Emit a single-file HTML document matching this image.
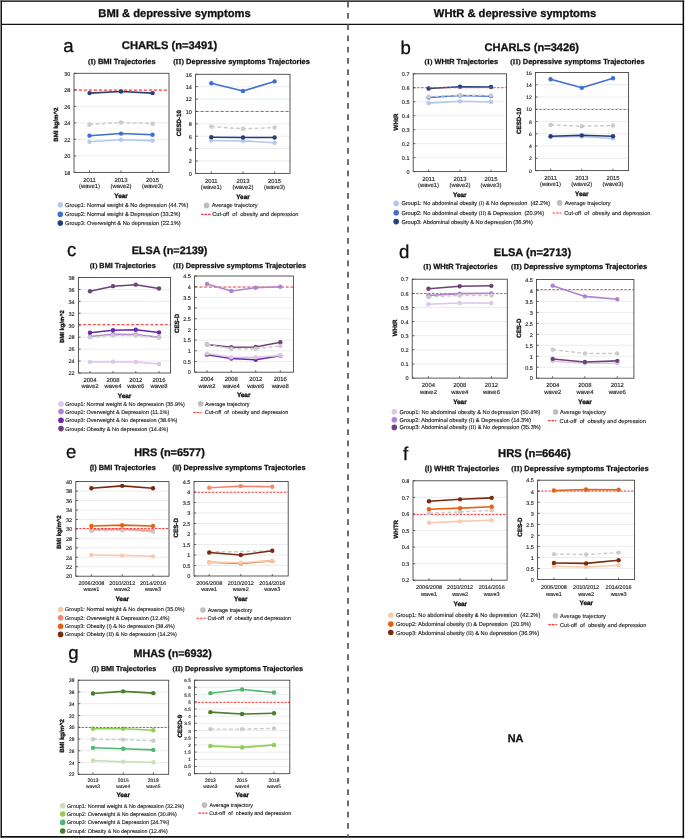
<!DOCTYPE html>
<html lang="en"><head><meta charset="utf-8"><title>Trajectories of BMI / WHtR and depressive symptoms</title>
<style>html,body{margin:0;padding:0;background:#fff}svg{display:block;will-change:transform}text{font-family:"Liberation Sans", Arial, Helvetica, sans-serif;text-rendering:geometricPrecision}.s{stroke:#222;stroke-width:.13px}.b{stroke:#111;stroke-width:.32px}.t{stroke:#111;stroke-width:.25px}.h{stroke:#111;stroke-width:.3px}</style>
</head><body>
<svg width="685" height="839" viewBox="0 0 685 839">
<rect width="685" height="839" fill="#fff"/>
<rect x="0" y="0" width="684.1" height="0.8" fill="#8c8c8c"/>
<rect x="0" y="0" width="0.95" height="837.7" fill="#8c8c8c"/>
<rect x="0.9" y="0.7" width="683.2" height="1.1" fill="#0c0c0c"/>
<rect x="0.9" y="0.7" width="1.05" height="837" fill="#0c0c0c"/>
<rect x="682.6" y="0.7" width="1.5" height="837" fill="#0c0c0c"/>
<rect x="0.9" y="836" width="683.2" height="1.7" fill="#0c0c0c"/>
<line x1="1" x2="684" y1="24.4" y2="24.4" stroke="#111" stroke-width="1.1"/>
<line x1="348" x2="348" y1="1.7" y2="837" stroke="#555" stroke-width="1.7" stroke-dasharray="5.9 5.35"/>
<text class="h" x="174.5" y="16.5" font-size="11.2" font-weight="bold" text-anchor="middle" fill="#111">BMI &amp; depressive symptoms</text>
<text class="h" x="515" y="16.5" font-size="11.2" font-weight="bold" text-anchor="middle" fill="#111">WHtR &amp; depressive symptoms</text>
<text x="63.3" y="51.6" font-size="18.6" fill="#111" stroke="#111" stroke-width="0.3">a</text>
<text class="h" x="169.5" y="48.6" font-size="11.18" font-weight="bold" text-anchor="middle" fill="#111">CHARLS (n=3491)</text>
<text class="t" x="121.8" y="63.7" font-size="7.49" font-weight="bold" text-anchor="middle" fill="#111"><tspan font-family='"Liberation Serif", "Times New Roman", serif' font-size="7.49">(I)</tspan> BMI Trajectories</text>
<text class="t" x="241.5" y="63.8" font-size="7.51" font-weight="bold" text-anchor="middle" fill="#111"><tspan font-family='"Liberation Serif", "Times New Roman", serif' font-size="7.51">(II)</tspan> Depressive symptoms Trajectories</text>
<g>
<rect x="74" y="73.3" width="95" height="99.1" fill="#fff"/>
<line x1="74" x2="169" y1="155.88" y2="155.88" stroke="#e4e4e4" stroke-width="0.7"/>
<line x1="74" x2="169" y1="139.37" y2="139.37" stroke="#e4e4e4" stroke-width="0.7"/>
<line x1="74" x2="169" y1="122.85" y2="122.85" stroke="#e4e4e4" stroke-width="0.7"/>
<line x1="74" x2="169" y1="106.33" y2="106.33" stroke="#e4e4e4" stroke-width="0.7"/>
<line x1="74" x2="169" y1="89.82" y2="89.82" stroke="#e4e4e4" stroke-width="0.7"/>
<line x1="74" x2="169" y1="90.15" y2="90.15" stroke="#ff3b3b" stroke-width="1.1" stroke-dasharray="2.9 2.1"/>
<polyline points="89.5,141.84 121,139.78 152.6,140.61" fill="none" stroke="#b4c7ee" stroke-width="1.55" stroke-linejoin="round"/>
<circle cx="89.5" cy="141.84" r="2.2" fill="#b4c7ee"/>
<circle cx="121" cy="139.78" r="2.2" fill="#b4c7ee"/>
<circle cx="152.6" cy="140.61" r="2.2" fill="#b4c7ee"/>
<polyline points="89.5,135.65 121,133.59 152.6,134.82" fill="none" stroke="#3f6fd0" stroke-width="1.55" stroke-linejoin="round"/>
<circle cx="89.5" cy="135.65" r="2.2" fill="#3f6fd0"/>
<circle cx="121" cy="133.59" r="2.2" fill="#3f6fd0"/>
<circle cx="152.6" cy="134.82" r="2.2" fill="#3f6fd0"/>
<polyline points="89.5,124.5 121,122.44 152.6,123.68" fill="none" stroke="#cbcbcb" stroke-width="1.45" stroke-dasharray="3.8 2.4" stroke-linejoin="round"/>
<circle cx="89.5" cy="124.5" r="2.2" fill="#cbcbcb"/>
<circle cx="121" cy="122.44" r="2.2" fill="#cbcbcb"/>
<circle cx="152.6" cy="123.68" r="2.2" fill="#cbcbcb"/>
<polyline points="89.5,93.12 121,91.47 152.6,93.12" fill="none" stroke="#263f7a" stroke-width="1.55" stroke-linejoin="round"/>
<circle cx="89.5" cy="93.12" r="2.2" fill="#263f7a"/>
<circle cx="121" cy="91.47" r="2.2" fill="#263f7a"/>
<circle cx="152.6" cy="93.12" r="2.2" fill="#263f7a"/>
<line x1="74" x2="76.2" y1="172.4" y2="172.4" stroke="#444" stroke-width="0.8"/>
<line x1="74" x2="76.2" y1="155.88" y2="155.88" stroke="#444" stroke-width="0.8"/>
<line x1="74" x2="76.2" y1="139.37" y2="139.37" stroke="#444" stroke-width="0.8"/>
<line x1="74" x2="76.2" y1="122.85" y2="122.85" stroke="#444" stroke-width="0.8"/>
<line x1="74" x2="76.2" y1="106.33" y2="106.33" stroke="#444" stroke-width="0.8"/>
<line x1="74" x2="76.2" y1="89.82" y2="89.82" stroke="#444" stroke-width="0.8"/>
<line x1="74" x2="76.2" y1="73.3" y2="73.3" stroke="#444" stroke-width="0.8"/>
<line x1="89.5" x2="89.5" y1="172.4" y2="170.4" stroke="#444" stroke-width="0.8"/>
<line x1="121" x2="121" y1="172.4" y2="170.4" stroke="#444" stroke-width="0.8"/>
<line x1="152.6" x2="152.6" y1="172.4" y2="170.4" stroke="#444" stroke-width="0.8"/>
<rect x="74" y="73.3" width="95" height="99.1" fill="none" stroke="#3c3c3c" stroke-width="0.85"/>
<text x="70.3" y="174.68" class="s" font-size="5.5" text-anchor="end" fill="#222">18</text>
<text x="70.3" y="158.16" class="s" font-size="5.5" text-anchor="end" fill="#222">20</text>
<text x="70.3" y="141.65" class="s" font-size="5.5" text-anchor="end" fill="#222">22</text>
<text x="70.3" y="125.13" class="s" font-size="5.5" text-anchor="end" fill="#222">24</text>
<text x="70.3" y="108.61" class="s" font-size="5.5" text-anchor="end" fill="#222">26</text>
<text x="70.3" y="92.1" class="s" font-size="5.5" text-anchor="end" fill="#222">28</text>
<text x="70.3" y="75.58" class="s" font-size="5.5" text-anchor="end" fill="#222">30</text>
<text x="89.5" y="181.6" class="s" font-size="5.9" text-anchor="middle" fill="#222">2011</text>
<text x="89.5" y="187.9" class="s" font-size="5.9" text-anchor="middle" fill="#222">(wave1)</text>
<text x="121" y="181.6" class="s" font-size="5.9" text-anchor="middle" fill="#222">2013</text>
<text x="121" y="187.9" class="s" font-size="5.9" text-anchor="middle" fill="#222">(wave2)</text>
<text x="152.6" y="181.6" class="s" font-size="5.9" text-anchor="middle" fill="#222">2015</text>
<text x="152.6" y="187.9" class="s" font-size="5.9" text-anchor="middle" fill="#222">(wave3)</text>
<text x="121.05" y="197.6" class="b" font-size="6.4" font-weight="bold" text-anchor="middle" fill="#111">Year</text>
<text transform="translate(58.2,124.65) rotate(-90)" class="b" font-size="6.15" font-weight="bold" text-anchor="middle" fill="#111">BMI kg/m^2</text>
</g>
<g>
<rect x="195.6" y="74.3" width="94.4" height="99.1" fill="#fff"/>
<line x1="195.6" x2="290" y1="161.01" y2="161.01" stroke="#e4e4e4" stroke-width="0.7"/>
<line x1="195.6" x2="290" y1="148.62" y2="148.62" stroke="#e4e4e4" stroke-width="0.7"/>
<line x1="195.6" x2="290" y1="136.24" y2="136.24" stroke="#e4e4e4" stroke-width="0.7"/>
<line x1="195.6" x2="290" y1="123.85" y2="123.85" stroke="#e4e4e4" stroke-width="0.7"/>
<line x1="195.6" x2="290" y1="111.46" y2="111.46" stroke="#e4e4e4" stroke-width="0.7"/>
<line x1="195.6" x2="290" y1="99.08" y2="99.08" stroke="#e4e4e4" stroke-width="0.7"/>
<line x1="195.6" x2="290" y1="86.69" y2="86.69" stroke="#e4e4e4" stroke-width="0.7"/>
<line x1="195.6" x2="290" y1="111.45" y2="111.45" stroke="#ff3b3b" stroke-width="1.0" stroke-dasharray="3 2"/>
<polyline points="211.3,140.57 243,140.88 274.6,142.74" fill="none" stroke="#b4c7ee" stroke-width="1.55" stroke-linejoin="round"/>
<circle cx="211.3" cy="140.57" r="2.2" fill="#b4c7ee"/>
<circle cx="243" cy="140.88" r="2.2" fill="#b4c7ee"/>
<circle cx="274.6" cy="142.74" r="2.2" fill="#b4c7ee"/>
<polyline points="211.3,126.64 243,128.81 274.6,127.57" fill="none" stroke="#cbcbcb" stroke-width="1.45" stroke-dasharray="3.8 2.4" stroke-linejoin="round"/>
<circle cx="211.3" cy="126.64" r="2.2" fill="#cbcbcb"/>
<circle cx="243" cy="128.81" r="2.2" fill="#cbcbcb"/>
<circle cx="274.6" cy="127.57" r="2.2" fill="#cbcbcb"/>
<polyline points="211.3,137.17 243,137.48 274.6,137.48" fill="none" stroke="#263f7a" stroke-width="1.55" stroke-linejoin="round"/>
<circle cx="211.3" cy="137.17" r="2.2" fill="#263f7a"/>
<circle cx="243" cy="137.48" r="2.2" fill="#263f7a"/>
<circle cx="274.6" cy="137.48" r="2.2" fill="#263f7a"/>
<polyline points="211.3,83.28 243,91.02 274.6,81.42" fill="none" stroke="#3f6fd0" stroke-width="1.55" stroke-linejoin="round"/>
<circle cx="211.3" cy="83.28" r="2.2" fill="#3f6fd0"/>
<circle cx="243" cy="91.02" r="2.2" fill="#3f6fd0"/>
<circle cx="274.6" cy="81.42" r="2.2" fill="#3f6fd0"/>
<line x1="195.6" x2="197.8" y1="173.4" y2="173.4" stroke="#444" stroke-width="0.8"/>
<line x1="195.6" x2="197.8" y1="161.01" y2="161.01" stroke="#444" stroke-width="0.8"/>
<line x1="195.6" x2="197.8" y1="148.62" y2="148.62" stroke="#444" stroke-width="0.8"/>
<line x1="195.6" x2="197.8" y1="136.24" y2="136.24" stroke="#444" stroke-width="0.8"/>
<line x1="195.6" x2="197.8" y1="123.85" y2="123.85" stroke="#444" stroke-width="0.8"/>
<line x1="195.6" x2="197.8" y1="111.46" y2="111.46" stroke="#444" stroke-width="0.8"/>
<line x1="195.6" x2="197.8" y1="99.08" y2="99.08" stroke="#444" stroke-width="0.8"/>
<line x1="195.6" x2="197.8" y1="86.69" y2="86.69" stroke="#444" stroke-width="0.8"/>
<line x1="195.6" x2="197.8" y1="74.3" y2="74.3" stroke="#444" stroke-width="0.8"/>
<line x1="211.3" x2="211.3" y1="173.4" y2="171.4" stroke="#444" stroke-width="0.8"/>
<line x1="243" x2="243" y1="173.4" y2="171.4" stroke="#444" stroke-width="0.8"/>
<line x1="274.6" x2="274.6" y1="173.4" y2="171.4" stroke="#444" stroke-width="0.8"/>
<rect x="195.6" y="74.3" width="94.4" height="99.1" fill="none" stroke="#3c3c3c" stroke-width="0.85"/>
<text x="191.9" y="175.68" class="s" font-size="5.5" text-anchor="end" fill="#222">0</text>
<text x="191.9" y="163.29" class="s" font-size="5.5" text-anchor="end" fill="#222">2</text>
<text x="191.9" y="150.91" class="s" font-size="5.5" text-anchor="end" fill="#222">4</text>
<text x="191.9" y="138.52" class="s" font-size="5.5" text-anchor="end" fill="#222">6</text>
<text x="191.9" y="126.13" class="s" font-size="5.5" text-anchor="end" fill="#222">8</text>
<text x="191.9" y="113.74" class="s" font-size="5.5" text-anchor="end" fill="#222">10</text>
<text x="191.9" y="101.36" class="s" font-size="5.5" text-anchor="end" fill="#222">12</text>
<text x="191.9" y="88.97" class="s" font-size="5.5" text-anchor="end" fill="#222">14</text>
<text x="191.9" y="76.58" class="s" font-size="5.5" text-anchor="end" fill="#222">16</text>
<text x="211.3" y="182.6" class="s" font-size="5.9" text-anchor="middle" fill="#222">2011</text>
<text x="211.3" y="188.9" class="s" font-size="5.9" text-anchor="middle" fill="#222">(wave1)</text>
<text x="243" y="182.6" class="s" font-size="5.9" text-anchor="middle" fill="#222">2013</text>
<text x="243" y="188.9" class="s" font-size="5.9" text-anchor="middle" fill="#222">(wave2)</text>
<text x="274.6" y="182.6" class="s" font-size="5.9" text-anchor="middle" fill="#222">2015</text>
<text x="274.6" y="188.9" class="s" font-size="5.9" text-anchor="middle" fill="#222">(wave3)</text>
<text x="242.95" y="198.6" class="b" font-size="6.4" font-weight="bold" text-anchor="middle" fill="#111">Year</text>
<text transform="translate(181.2,123.15) rotate(-90)" class="b" font-size="6.2" font-weight="bold" text-anchor="middle" fill="#111">CESD-10</text>
</g>
<circle cx="60.3" cy="204.8" r="2.8" fill="#b4c7ee"/>
<text x="65" y="206.84" class="s" font-size="5.68" fill="#222" xml:space="preserve">Group1: Normal weight &amp; No depression (44.7%)</text>
<circle cx="60.3" cy="214.2" r="2.8" fill="#3f6fd0"/>
<text x="65" y="216.24" class="s" font-size="5.68" fill="#222" xml:space="preserve">Group2: Normal weight &amp; Depression (33.2%)</text>
<circle cx="60.3" cy="223.1" r="2.8" fill="#263f7a"/>
<text x="65" y="225.14" class="s" font-size="5.68" fill="#222" xml:space="preserve">Group3: Overweight &amp; No depression (22.1%)</text>
<circle cx="206.6" cy="205.4" r="2.8" fill="#bdbdbd"/>
<text x="211.7" y="207.44" class="s" font-size="5.68" fill="#222">Average trajectory</text>
<line x1="201" x2="210.6" y1="214.3" y2="214.3" stroke="#ff3b3b" stroke-width="1.15" stroke-dasharray="2.6 0.9"/>
<text x="212.2" y="216.34" class="s" font-size="5.68" fill="#222" xml:space="preserve">Cut-off  of  obesity and depression</text>
<text x="400.4" y="54.4" font-size="18.6" fill="#111" stroke="#111" stroke-width="0.3">b</text>
<text class="h" x="531.8" y="50.5" font-size="11.07" font-weight="bold" text-anchor="middle" fill="#111">CHARLS (n=3426)</text>
<text class="t" x="461.3" y="64.2" font-size="7.38" font-weight="bold" text-anchor="middle" fill="#111"><tspan font-family='"Liberation Serif", "Times New Roman", serif' font-size="7.38">(I)</tspan> WHtR Trajectories</text>
<text class="t" x="577.4" y="64.2" font-size="7.38" font-weight="bold" text-anchor="middle" fill="#111"><tspan font-family='"Liberation Serif", "Times New Roman", serif' font-size="7.38">(II)</tspan> Depressive symptoms Trajectories</text>
<g>
<rect x="413.2" y="73.8" width="93.3" height="97.8" fill="#fff"/>
<line x1="413.2" x2="506.5" y1="157.63" y2="157.63" stroke="#e4e4e4" stroke-width="0.7"/>
<line x1="413.2" x2="506.5" y1="143.66" y2="143.66" stroke="#e4e4e4" stroke-width="0.7"/>
<line x1="413.2" x2="506.5" y1="129.69" y2="129.69" stroke="#e4e4e4" stroke-width="0.7"/>
<line x1="413.2" x2="506.5" y1="115.71" y2="115.71" stroke="#e4e4e4" stroke-width="0.7"/>
<line x1="413.2" x2="506.5" y1="101.74" y2="101.74" stroke="#e4e4e4" stroke-width="0.7"/>
<line x1="413.2" x2="506.5" y1="87.77" y2="87.77" stroke="#e4e4e4" stroke-width="0.7"/>
<polyline points="428.6,103.14 460,101.32 491,102.02" fill="none" stroke="#b4c7ee" stroke-width="1.55" stroke-linejoin="round"/>
<circle cx="428.6" cy="103.14" r="2.2" fill="#b4c7ee"/>
<circle cx="460" cy="101.32" r="2.2" fill="#b4c7ee"/>
<circle cx="491" cy="102.02" r="2.2" fill="#b4c7ee"/>
<polyline points="428.6,97.55 460,95.46 491,96.15" fill="none" stroke="#3f6fd0" stroke-width="1.55" stroke-linejoin="round"/>
<circle cx="428.6" cy="97.55" r="2.2" fill="#3f6fd0"/>
<circle cx="460" cy="95.46" r="2.2" fill="#3f6fd0"/>
<circle cx="491" cy="96.15" r="2.2" fill="#3f6fd0"/>
<polyline points="428.6,96.71 460,95.04 491,95.46" fill="none" stroke="#cbcbcb" stroke-width="1.45" stroke-dasharray="3.8 2.4" stroke-linejoin="round"/>
<circle cx="428.6" cy="96.71" r="2.2" fill="#cbcbcb"/>
<circle cx="460" cy="95.04" r="2.2" fill="#cbcbcb"/>
<circle cx="491" cy="95.46" r="2.2" fill="#cbcbcb"/>
<polyline points="428.6,88.47 460,86.65 491,87.07" fill="none" stroke="#263f7a" stroke-width="1.55" stroke-linejoin="round"/>
<circle cx="428.6" cy="88.47" r="2.2" fill="#263f7a"/>
<circle cx="460" cy="86.65" r="2.2" fill="#263f7a"/>
<circle cx="491" cy="87.07" r="2.2" fill="#263f7a"/>
<line x1="413.2" x2="506.5" y1="87.7" y2="87.7" stroke="#ff3b3b" stroke-width="1.0" stroke-dasharray="2.3 1.7"/>
<line x1="413.2" x2="415.4" y1="171.6" y2="171.6" stroke="#444" stroke-width="0.8"/>
<line x1="413.2" x2="415.4" y1="157.63" y2="157.63" stroke="#444" stroke-width="0.8"/>
<line x1="413.2" x2="415.4" y1="143.66" y2="143.66" stroke="#444" stroke-width="0.8"/>
<line x1="413.2" x2="415.4" y1="129.69" y2="129.69" stroke="#444" stroke-width="0.8"/>
<line x1="413.2" x2="415.4" y1="115.71" y2="115.71" stroke="#444" stroke-width="0.8"/>
<line x1="413.2" x2="415.4" y1="101.74" y2="101.74" stroke="#444" stroke-width="0.8"/>
<line x1="413.2" x2="415.4" y1="87.77" y2="87.77" stroke="#444" stroke-width="0.8"/>
<line x1="413.2" x2="415.4" y1="73.8" y2="73.8" stroke="#444" stroke-width="0.8"/>
<line x1="428.6" x2="428.6" y1="171.6" y2="169.6" stroke="#444" stroke-width="0.8"/>
<line x1="460" x2="460" y1="171.6" y2="169.6" stroke="#444" stroke-width="0.8"/>
<line x1="491" x2="491" y1="171.6" y2="169.6" stroke="#444" stroke-width="0.8"/>
<rect x="413.2" y="73.8" width="93.3" height="97.8" fill="none" stroke="#3c3c3c" stroke-width="0.85"/>
<text x="409.5" y="173.88" class="s" font-size="5.5" text-anchor="end" fill="#222">0</text>
<text x="409.5" y="159.91" class="s" font-size="5.5" text-anchor="end" fill="#222">0.1</text>
<text x="409.5" y="145.94" class="s" font-size="5.5" text-anchor="end" fill="#222">0.2</text>
<text x="409.5" y="131.97" class="s" font-size="5.5" text-anchor="end" fill="#222">0.3</text>
<text x="409.5" y="117.99" class="s" font-size="5.5" text-anchor="end" fill="#222">0.4</text>
<text x="409.5" y="104.02" class="s" font-size="5.5" text-anchor="end" fill="#222">0.5</text>
<text x="409.5" y="90.05" class="s" font-size="5.5" text-anchor="end" fill="#222">0.6</text>
<text x="409.5" y="76.08" class="s" font-size="5.5" text-anchor="end" fill="#222">0.7</text>
<text x="428.6" y="180.6" class="s" font-size="5.9" text-anchor="middle" fill="#222">2011</text>
<text x="428.6" y="187.2" class="s" font-size="5.9" text-anchor="middle" fill="#222">(wave1)</text>
<text x="460" y="180.6" class="s" font-size="5.9" text-anchor="middle" fill="#222">2013</text>
<text x="460" y="187.2" class="s" font-size="5.9" text-anchor="middle" fill="#222">(wave2)</text>
<text x="491" y="180.6" class="s" font-size="5.9" text-anchor="middle" fill="#222">2015</text>
<text x="491" y="187.2" class="s" font-size="5.9" text-anchor="middle" fill="#222">(wave3)</text>
<text x="459.8" y="196.8" class="b" font-size="6.4" font-weight="bold" text-anchor="middle" fill="#111">Year</text>
<text transform="translate(397.5,122) rotate(-90)" class="b" font-size="6.2" font-weight="bold" text-anchor="middle" fill="#111">WHtR</text>
</g>
<g>
<rect x="535.4" y="72.5" width="93.2" height="98.1" fill="#fff"/>
<line x1="535.4" x2="628.6" y1="158.34" y2="158.34" stroke="#e4e4e4" stroke-width="0.7"/>
<line x1="535.4" x2="628.6" y1="146.07" y2="146.07" stroke="#e4e4e4" stroke-width="0.7"/>
<line x1="535.4" x2="628.6" y1="133.81" y2="133.81" stroke="#e4e4e4" stroke-width="0.7"/>
<line x1="535.4" x2="628.6" y1="121.55" y2="121.55" stroke="#e4e4e4" stroke-width="0.7"/>
<line x1="535.4" x2="628.6" y1="109.29" y2="109.29" stroke="#e4e4e4" stroke-width="0.7"/>
<line x1="535.4" x2="628.6" y1="97.03" y2="97.03" stroke="#e4e4e4" stroke-width="0.7"/>
<line x1="535.4" x2="628.6" y1="84.76" y2="84.76" stroke="#e4e4e4" stroke-width="0.7"/>
<line x1="535.4" x2="628.6" y1="109.45" y2="109.45" stroke="#ff3b3b" stroke-width="1.0" stroke-dasharray="2.3 1.7"/>
<polyline points="550.6,136.88 581.8,136.57 613,138.41" fill="none" stroke="#b4c7ee" stroke-width="1.55" stroke-linejoin="round"/>
<circle cx="550.6" cy="136.88" r="2.2" fill="#b4c7ee"/>
<circle cx="581.8" cy="136.57" r="2.2" fill="#b4c7ee"/>
<circle cx="613" cy="138.41" r="2.2" fill="#b4c7ee"/>
<polyline points="550.6,124.92 581.8,126.15 613,125.54" fill="none" stroke="#cbcbcb" stroke-width="1.45" stroke-dasharray="3.8 2.4" stroke-linejoin="round"/>
<circle cx="550.6" cy="124.92" r="2.2" fill="#cbcbcb"/>
<circle cx="581.8" cy="126.15" r="2.2" fill="#cbcbcb"/>
<circle cx="613" cy="125.54" r="2.2" fill="#cbcbcb"/>
<polyline points="550.6,136.26 581.8,135.35 613,136.26" fill="none" stroke="#263f7a" stroke-width="1.55" stroke-linejoin="round"/>
<circle cx="550.6" cy="136.26" r="2.2" fill="#263f7a"/>
<circle cx="581.8" cy="135.35" r="2.2" fill="#263f7a"/>
<circle cx="613" cy="136.26" r="2.2" fill="#263f7a"/>
<polyline points="550.6,79.24 581.8,87.83 613,78.32" fill="none" stroke="#3f6fd0" stroke-width="1.55" stroke-linejoin="round"/>
<circle cx="550.6" cy="79.24" r="2.2" fill="#3f6fd0"/>
<circle cx="581.8" cy="87.83" r="2.2" fill="#3f6fd0"/>
<circle cx="613" cy="78.32" r="2.2" fill="#3f6fd0"/>
<line x1="535.4" x2="537.6" y1="170.6" y2="170.6" stroke="#444" stroke-width="0.8"/>
<line x1="535.4" x2="537.6" y1="158.34" y2="158.34" stroke="#444" stroke-width="0.8"/>
<line x1="535.4" x2="537.6" y1="146.07" y2="146.07" stroke="#444" stroke-width="0.8"/>
<line x1="535.4" x2="537.6" y1="133.81" y2="133.81" stroke="#444" stroke-width="0.8"/>
<line x1="535.4" x2="537.6" y1="121.55" y2="121.55" stroke="#444" stroke-width="0.8"/>
<line x1="535.4" x2="537.6" y1="109.29" y2="109.29" stroke="#444" stroke-width="0.8"/>
<line x1="535.4" x2="537.6" y1="97.03" y2="97.03" stroke="#444" stroke-width="0.8"/>
<line x1="535.4" x2="537.6" y1="84.76" y2="84.76" stroke="#444" stroke-width="0.8"/>
<line x1="535.4" x2="537.6" y1="72.5" y2="72.5" stroke="#444" stroke-width="0.8"/>
<line x1="550.6" x2="550.6" y1="170.6" y2="168.6" stroke="#444" stroke-width="0.8"/>
<line x1="581.8" x2="581.8" y1="170.6" y2="168.6" stroke="#444" stroke-width="0.8"/>
<line x1="613" x2="613" y1="170.6" y2="168.6" stroke="#444" stroke-width="0.8"/>
<rect x="535.4" y="72.5" width="93.2" height="98.1" fill="none" stroke="#3c3c3c" stroke-width="0.85"/>
<text x="531.7" y="172.7" class="s" font-size="5.0" text-anchor="end" fill="#222">0</text>
<text x="531.7" y="160.44" class="s" font-size="5.0" text-anchor="end" fill="#222">2</text>
<text x="531.7" y="148.18" class="s" font-size="5.0" text-anchor="end" fill="#222">4</text>
<text x="531.7" y="135.91" class="s" font-size="5.0" text-anchor="end" fill="#222">6</text>
<text x="531.7" y="123.65" class="s" font-size="5.0" text-anchor="end" fill="#222">8</text>
<text x="531.7" y="111.39" class="s" font-size="5.0" text-anchor="end" fill="#222">10</text>
<text x="531.7" y="99.12" class="s" font-size="5.0" text-anchor="end" fill="#222">12</text>
<text x="531.7" y="86.86" class="s" font-size="5.0" text-anchor="end" fill="#222">14</text>
<text x="531.7" y="74.6" class="s" font-size="5.0" text-anchor="end" fill="#222">16</text>
<text x="550.6" y="179.6" class="s" font-size="5.9" text-anchor="middle" fill="#222">2011</text>
<text x="550.6" y="186.2" class="s" font-size="5.9" text-anchor="middle" fill="#222">(wave1)</text>
<text x="581.8" y="179.6" class="s" font-size="5.9" text-anchor="middle" fill="#222">2013</text>
<text x="581.8" y="186.2" class="s" font-size="5.9" text-anchor="middle" fill="#222">(wave2)</text>
<text x="613" y="179.6" class="s" font-size="5.9" text-anchor="middle" fill="#222">2015</text>
<text x="613" y="186.2" class="s" font-size="5.9" text-anchor="middle" fill="#222">(wave3)</text>
<text x="581.8" y="196.2" class="b" font-size="6.4" font-weight="bold" text-anchor="middle" fill="#111">Year</text>
<text transform="translate(521,120.85) rotate(-90)" class="b" font-size="6.2" font-weight="bold" text-anchor="middle" fill="#111">CESD-10</text>
</g>
<circle cx="396.2" cy="203.4" r="2.8" fill="#b4c7ee"/>
<text x="401.4" y="205.42" class="s" font-size="5.62" fill="#222" xml:space="preserve">Group1: No abdominal obesity <tspan font-family='"Liberation Serif", "Times New Roman", serif' font-size='5.5'>(I)</tspan> &amp; No depression  (42.2%)</text>
<circle cx="396.2" cy="212.7" r="2.8" fill="#3f6fd0"/>
<text x="401.4" y="214.72" class="s" font-size="5.62" fill="#222" xml:space="preserve">Group2: No abdominal obesity <tspan font-family='"Liberation Serif", "Times New Roman", serif' font-size='5.5'>(II)</tspan> &amp; Depression  (20.9%)</text>
<circle cx="396.2" cy="221.6" r="2.8" fill="#263f7a"/>
<text x="401.4" y="223.62" class="s" font-size="5.62" fill="#222" xml:space="preserve">Group3: Abdominal obesity &amp; No depression (36.9%)</text>
<circle cx="559.6" cy="202.9" r="2.8" fill="#bdbdbd"/>
<text x="564.7" y="204.94" class="s" font-size="5.68" fill="#222">Average trajectory</text>
<line x1="552.6" x2="561.7" y1="213" y2="213" stroke="#ff3b3b" stroke-width="1.15" stroke-dasharray="2.6 0.9"/>
<text x="564.2" y="215.04" class="s" font-size="5.68" fill="#222" xml:space="preserve">Cut-off  of  obesity and depression</text>
<text x="67" y="256" font-size="18.6" fill="#111" stroke="#111" stroke-width="0.3">c</text>
<text class="h" x="169.5" y="254.1" font-size="10.84" font-weight="bold" text-anchor="middle" fill="#111">ELSA (n=2139)</text>
<text class="t" x="122.7" y="267.7" font-size="7.3" font-weight="bold" text-anchor="middle" fill="#111"><tspan font-family='"Liberation Serif", "Times New Roman", serif' font-size="7.3">(I)</tspan> BMI Trajectories</text>
<text class="t" x="239.6" y="267.7" font-size="7.3" font-weight="bold" text-anchor="middle" fill="#111"><tspan font-family='"Liberation Serif", "Times New Roman", serif' font-size="7.3">(II)</tspan> Depressive symptoms Trajectories</text>
<g>
<rect x="78.4" y="277.5" width="92.2" height="95.5" fill="#fff"/>
<line x1="78.4" x2="170.6" y1="361.06" y2="361.06" stroke="#e4e4e4" stroke-width="0.7"/>
<line x1="78.4" x2="170.6" y1="349.12" y2="349.12" stroke="#e4e4e4" stroke-width="0.7"/>
<line x1="78.4" x2="170.6" y1="337.19" y2="337.19" stroke="#e4e4e4" stroke-width="0.7"/>
<line x1="78.4" x2="170.6" y1="325.25" y2="325.25" stroke="#e4e4e4" stroke-width="0.7"/>
<line x1="78.4" x2="170.6" y1="313.31" y2="313.31" stroke="#e4e4e4" stroke-width="0.7"/>
<line x1="78.4" x2="170.6" y1="301.38" y2="301.38" stroke="#e4e4e4" stroke-width="0.7"/>
<line x1="78.4" x2="170.6" y1="289.44" y2="289.44" stroke="#e4e4e4" stroke-width="0.7"/>
<line x1="78.4" x2="170.6" y1="324.6" y2="324.6" stroke="#ff3b3b" stroke-width="1.0" stroke-dasharray="2.9 1.9"/>
<polyline points="90,361.96 113,361.66 135.8,361.96 159,364.05" fill="none" stroke="#dcc6ea" stroke-width="1.55" stroke-linejoin="round"/>
<circle cx="90" cy="361.96" r="2.2" fill="#dcc6ea"/>
<circle cx="113" cy="361.66" r="2.2" fill="#dcc6ea"/>
<circle cx="135.8" cy="361.96" r="2.2" fill="#dcc6ea"/>
<circle cx="159" cy="364.05" r="2.2" fill="#dcc6ea"/>
<polyline points="90,336.59 113,334.2 135.8,334.5 159,337.19" fill="none" stroke="#b083cf" stroke-width="1.55" stroke-linejoin="round"/>
<circle cx="90" cy="336.59" r="2.2" fill="#b083cf"/>
<circle cx="113" cy="334.2" r="2.2" fill="#b083cf"/>
<circle cx="135.8" cy="334.5" r="2.2" fill="#b083cf"/>
<circle cx="159" cy="337.19" r="2.2" fill="#b083cf"/>
<polyline points="90,337.19 113,335.4 135.8,335.4 159,337.78" fill="none" stroke="#cbcbcb" stroke-width="1.45" stroke-dasharray="3.8 2.4" stroke-linejoin="round"/>
<circle cx="90" cy="337.19" r="2.2" fill="#cbcbcb"/>
<circle cx="113" cy="335.4" r="2.2" fill="#cbcbcb"/>
<circle cx="135.8" cy="335.4" r="2.2" fill="#cbcbcb"/>
<circle cx="159" cy="337.78" r="2.2" fill="#cbcbcb"/>
<polyline points="90,332.71 113,330.32 135.8,329.73 159,332.41" fill="none" stroke="#6a27ab" stroke-width="1.55" stroke-linejoin="round"/>
<circle cx="90" cy="332.71" r="2.2" fill="#6a27ab"/>
<circle cx="113" cy="330.32" r="2.2" fill="#6a27ab"/>
<circle cx="135.8" cy="329.73" r="2.2" fill="#6a27ab"/>
<circle cx="159" cy="332.41" r="2.2" fill="#6a27ab"/>
<polyline points="90,291.23 113,286.15 135.8,284.66 159,288.54" fill="none" stroke="#6e4478" stroke-width="1.55" stroke-linejoin="round"/>
<circle cx="90" cy="291.23" r="2.2" fill="#6e4478"/>
<circle cx="113" cy="286.15" r="2.2" fill="#6e4478"/>
<circle cx="135.8" cy="284.66" r="2.2" fill="#6e4478"/>
<circle cx="159" cy="288.54" r="2.2" fill="#6e4478"/>
<line x1="78.4" x2="80.6" y1="373" y2="373" stroke="#444" stroke-width="0.8"/>
<line x1="78.4" x2="80.6" y1="361.06" y2="361.06" stroke="#444" stroke-width="0.8"/>
<line x1="78.4" x2="80.6" y1="349.12" y2="349.12" stroke="#444" stroke-width="0.8"/>
<line x1="78.4" x2="80.6" y1="337.19" y2="337.19" stroke="#444" stroke-width="0.8"/>
<line x1="78.4" x2="80.6" y1="325.25" y2="325.25" stroke="#444" stroke-width="0.8"/>
<line x1="78.4" x2="80.6" y1="313.31" y2="313.31" stroke="#444" stroke-width="0.8"/>
<line x1="78.4" x2="80.6" y1="301.38" y2="301.38" stroke="#444" stroke-width="0.8"/>
<line x1="78.4" x2="80.6" y1="289.44" y2="289.44" stroke="#444" stroke-width="0.8"/>
<line x1="78.4" x2="80.6" y1="277.5" y2="277.5" stroke="#444" stroke-width="0.8"/>
<line x1="90" x2="90" y1="373" y2="371" stroke="#444" stroke-width="0.8"/>
<line x1="113" x2="113" y1="373" y2="371" stroke="#444" stroke-width="0.8"/>
<line x1="135.8" x2="135.8" y1="373" y2="371" stroke="#444" stroke-width="0.8"/>
<line x1="159" x2="159" y1="373" y2="371" stroke="#444" stroke-width="0.8"/>
<rect x="78.4" y="277.5" width="92.2" height="95.5" fill="none" stroke="#3c3c3c" stroke-width="0.85"/>
<text x="74.7" y="375.28" class="s" font-size="5.5" text-anchor="end" fill="#222">22</text>
<text x="74.7" y="363.34" class="s" font-size="5.5" text-anchor="end" fill="#222">24</text>
<text x="74.7" y="351.41" class="s" font-size="5.5" text-anchor="end" fill="#222">26</text>
<text x="74.7" y="339.47" class="s" font-size="5.5" text-anchor="end" fill="#222">28</text>
<text x="74.7" y="327.53" class="s" font-size="5.5" text-anchor="end" fill="#222">30</text>
<text x="74.7" y="315.59" class="s" font-size="5.5" text-anchor="end" fill="#222">32</text>
<text x="74.7" y="303.66" class="s" font-size="5.5" text-anchor="end" fill="#222">34</text>
<text x="74.7" y="291.72" class="s" font-size="5.5" text-anchor="end" fill="#222">36</text>
<text x="74.7" y="279.78" class="s" font-size="5.5" text-anchor="end" fill="#222">38</text>
<text x="90" y="381.8" class="s" font-size="5.9" text-anchor="middle" fill="#222">2004</text>
<text x="90" y="388" class="s" font-size="5.9" text-anchor="middle" fill="#222">wave2</text>
<text x="113" y="381.8" class="s" font-size="5.9" text-anchor="middle" fill="#222">2008</text>
<text x="113" y="388" class="s" font-size="5.9" text-anchor="middle" fill="#222">wave4</text>
<text x="135.8" y="381.8" class="s" font-size="5.9" text-anchor="middle" fill="#222">2012</text>
<text x="135.8" y="388" class="s" font-size="5.9" text-anchor="middle" fill="#222">wave6</text>
<text x="159" y="381.8" class="s" font-size="5.9" text-anchor="middle" fill="#222">2016</text>
<text x="159" y="388" class="s" font-size="5.9" text-anchor="middle" fill="#222">wave8</text>
<text x="124.5" y="398.3" class="b" font-size="6.4" font-weight="bold" text-anchor="middle" fill="#111">Year</text>
<text transform="translate(64.2,326.55) rotate(-90)" class="b" font-size="5.9" font-weight="bold" text-anchor="middle" fill="#111">BMI kg/m^2</text>
</g>
<g>
<rect x="194.6" y="276" width="98.8" height="96.2" fill="#fff"/>
<line x1="194.6" x2="293.4" y1="361.51" y2="361.51" stroke="#e4e4e4" stroke-width="0.7"/>
<line x1="194.6" x2="293.4" y1="350.82" y2="350.82" stroke="#e4e4e4" stroke-width="0.7"/>
<line x1="194.6" x2="293.4" y1="340.13" y2="340.13" stroke="#e4e4e4" stroke-width="0.7"/>
<line x1="194.6" x2="293.4" y1="329.44" y2="329.44" stroke="#e4e4e4" stroke-width="0.7"/>
<line x1="194.6" x2="293.4" y1="318.76" y2="318.76" stroke="#e4e4e4" stroke-width="0.7"/>
<line x1="194.6" x2="293.4" y1="308.07" y2="308.07" stroke="#e4e4e4" stroke-width="0.7"/>
<line x1="194.6" x2="293.4" y1="297.38" y2="297.38" stroke="#e4e4e4" stroke-width="0.7"/>
<line x1="194.6" x2="293.4" y1="286.69" y2="286.69" stroke="#e4e4e4" stroke-width="0.7"/>
<line x1="194.6" x2="293.4" y1="287.1" y2="287.1" stroke="#ff3b3b" stroke-width="1.0" stroke-dasharray="2.9 1.9"/>
<polyline points="207,354.67 231.3,358.52 255.7,359.8 280.3,355.74" fill="none" stroke="#6a27ab" stroke-width="1.55" stroke-linejoin="round"/>
<circle cx="207" cy="354.67" r="2.2" fill="#6a27ab"/>
<circle cx="231.3" cy="358.52" r="2.2" fill="#6a27ab"/>
<circle cx="255.7" cy="359.8" r="2.2" fill="#6a27ab"/>
<circle cx="280.3" cy="355.74" r="2.2" fill="#6a27ab"/>
<polyline points="207,353.6 231.3,357.24 255.7,357.24 280.3,355.53" fill="none" stroke="#dcc6ea" stroke-width="1.55" stroke-linejoin="round"/>
<circle cx="207" cy="353.6" r="2.2" fill="#dcc6ea"/>
<circle cx="231.3" cy="357.24" r="2.2" fill="#dcc6ea"/>
<circle cx="255.7" cy="357.24" r="2.2" fill="#dcc6ea"/>
<circle cx="280.3" cy="355.53" r="2.2" fill="#dcc6ea"/>
<polyline points="207,344.41 231.3,347.19 255.7,346.97 280.3,342.27" fill="none" stroke="#6e4478" stroke-width="1.55" stroke-linejoin="round"/>
<circle cx="207" cy="344.41" r="2.2" fill="#6e4478"/>
<circle cx="231.3" cy="347.19" r="2.2" fill="#6e4478"/>
<circle cx="255.7" cy="346.97" r="2.2" fill="#6e4478"/>
<circle cx="280.3" cy="342.27" r="2.2" fill="#6e4478"/>
<polyline points="207,283.91 231.3,290.96 255.7,287.76 280.3,286.69" fill="none" stroke="#b083cf" stroke-width="1.55" stroke-linejoin="round"/>
<circle cx="207" cy="283.91" r="2.2" fill="#b083cf"/>
<circle cx="231.3" cy="290.96" r="2.2" fill="#b083cf"/>
<circle cx="255.7" cy="287.76" r="2.2" fill="#b083cf"/>
<circle cx="280.3" cy="286.69" r="2.2" fill="#b083cf"/>
<polyline points="207,344.41 231.3,348.68 255.7,348.68 280.3,345.91" fill="none" stroke="#cbcbcb" stroke-width="1.45" stroke-dasharray="3.8 2.4" stroke-linejoin="round"/>
<circle cx="207" cy="344.41" r="2.2" fill="#cbcbcb"/>
<circle cx="231.3" cy="348.68" r="2.2" fill="#cbcbcb"/>
<circle cx="255.7" cy="348.68" r="2.2" fill="#cbcbcb"/>
<circle cx="280.3" cy="345.91" r="2.2" fill="#cbcbcb"/>
<line x1="194.6" x2="196.8" y1="372.2" y2="372.2" stroke="#444" stroke-width="0.8"/>
<line x1="194.6" x2="196.8" y1="361.51" y2="361.51" stroke="#444" stroke-width="0.8"/>
<line x1="194.6" x2="196.8" y1="350.82" y2="350.82" stroke="#444" stroke-width="0.8"/>
<line x1="194.6" x2="196.8" y1="340.13" y2="340.13" stroke="#444" stroke-width="0.8"/>
<line x1="194.6" x2="196.8" y1="329.44" y2="329.44" stroke="#444" stroke-width="0.8"/>
<line x1="194.6" x2="196.8" y1="318.76" y2="318.76" stroke="#444" stroke-width="0.8"/>
<line x1="194.6" x2="196.8" y1="308.07" y2="308.07" stroke="#444" stroke-width="0.8"/>
<line x1="194.6" x2="196.8" y1="297.38" y2="297.38" stroke="#444" stroke-width="0.8"/>
<line x1="194.6" x2="196.8" y1="286.69" y2="286.69" stroke="#444" stroke-width="0.8"/>
<line x1="194.6" x2="196.8" y1="276" y2="276" stroke="#444" stroke-width="0.8"/>
<line x1="207" x2="207" y1="372.2" y2="370.2" stroke="#444" stroke-width="0.8"/>
<line x1="231.3" x2="231.3" y1="372.2" y2="370.2" stroke="#444" stroke-width="0.8"/>
<line x1="255.7" x2="255.7" y1="372.2" y2="370.2" stroke="#444" stroke-width="0.8"/>
<line x1="280.3" x2="280.3" y1="372.2" y2="370.2" stroke="#444" stroke-width="0.8"/>
<rect x="194.6" y="276" width="98.8" height="96.2" fill="none" stroke="#3c3c3c" stroke-width="0.85"/>
<text x="190.9" y="374.48" class="s" font-size="5.5" text-anchor="end" fill="#222">0</text>
<text x="190.9" y="363.79" class="s" font-size="5.5" text-anchor="end" fill="#222">0.5</text>
<text x="190.9" y="353.1" class="s" font-size="5.5" text-anchor="end" fill="#222">1</text>
<text x="190.9" y="342.41" class="s" font-size="5.5" text-anchor="end" fill="#222">1.5</text>
<text x="190.9" y="331.72" class="s" font-size="5.5" text-anchor="end" fill="#222">2</text>
<text x="190.9" y="321.04" class="s" font-size="5.5" text-anchor="end" fill="#222">2.5</text>
<text x="190.9" y="310.35" class="s" font-size="5.5" text-anchor="end" fill="#222">3</text>
<text x="190.9" y="299.66" class="s" font-size="5.5" text-anchor="end" fill="#222">3.5</text>
<text x="190.9" y="288.97" class="s" font-size="5.5" text-anchor="end" fill="#222">4</text>
<text x="190.9" y="278.28" class="s" font-size="5.5" text-anchor="end" fill="#222">4.5</text>
<text x="207" y="381" class="s" font-size="5.9" text-anchor="middle" fill="#222">2004</text>
<text x="207" y="387.8" class="s" font-size="5.9" text-anchor="middle" fill="#222">wave2</text>
<text x="231.3" y="381" class="s" font-size="5.9" text-anchor="middle" fill="#222">2008</text>
<text x="231.3" y="387.8" class="s" font-size="5.9" text-anchor="middle" fill="#222">wave4</text>
<text x="255.7" y="381" class="s" font-size="5.9" text-anchor="middle" fill="#222">2012</text>
<text x="255.7" y="387.8" class="s" font-size="5.9" text-anchor="middle" fill="#222">wave6</text>
<text x="280.3" y="381" class="s" font-size="5.9" text-anchor="middle" fill="#222">2016</text>
<text x="280.3" y="387.8" class="s" font-size="5.9" text-anchor="middle" fill="#222">wave8</text>
<text x="243.65" y="396.5" class="b" font-size="6.4" font-weight="bold" text-anchor="middle" fill="#111">Year</text>
<text transform="translate(178.8,323.4) rotate(-90)" class="b" font-size="6.2" font-weight="bold" text-anchor="middle" fill="#111">CES-D</text>
</g>
<circle cx="61" cy="404" r="2.8" fill="#dcc6ea"/>
<text x="65.2" y="405.98" class="s" font-size="5.5" fill="#222" xml:space="preserve">Group1: Normal weight &amp; No depression (35.9%)</text>
<circle cx="61" cy="411.6" r="2.8" fill="#b083cf"/>
<text x="65.2" y="413.58" class="s" font-size="5.5" fill="#222" xml:space="preserve">Group2: Overweight &amp; Depression (11.1%)</text>
<circle cx="61" cy="420.2" r="2.8" fill="#6a27ab"/>
<text x="65.2" y="422.18" class="s" font-size="5.5" fill="#222" xml:space="preserve">Group3: Overweight &amp; No depression (38.6%)</text>
<circle cx="61" cy="428.6" r="2.8" fill="#6e4478"/>
<text x="65.2" y="430.58" class="s" font-size="5.5" fill="#222" xml:space="preserve">Group4: Obesity &amp; No depression (14.4%)</text>
<circle cx="200.7" cy="403.8" r="2.8" fill="#bdbdbd"/>
<text x="205" y="405.78" class="s" font-size="5.5" fill="#222">Average trajectory</text>
<line x1="193.3" x2="201.7" y1="412.5" y2="412.5" stroke="#ff3b3b" stroke-width="1.15" stroke-dasharray="2.6 0.9"/>
<text x="204.7" y="414.48" class="s" font-size="5.5" fill="#222" xml:space="preserve">Cut-off  of  obesity and depression</text>
<text x="399" y="258.4" font-size="18.6" fill="#111" stroke="#111" stroke-width="0.3">d</text>
<text class="h" x="532.5" y="255.7" font-size="11.08" font-weight="bold" text-anchor="middle" fill="#111">ELSA (n=2713)</text>
<text class="t" x="460.4" y="269.3" font-size="7.47" font-weight="bold" text-anchor="middle" fill="#111"><tspan font-family='"Liberation Serif", "Times New Roman", serif' font-size="7.47">(I)</tspan> WHtR Trajectories</text>
<text class="t" x="579" y="269.1" font-size="7.47" font-weight="bold" text-anchor="middle" fill="#111"><tspan font-family='"Liberation Serif", "Times New Roman", serif' font-size="7.47">(II)</tspan> Depressive symptoms Trajectories</text>
<g>
<rect x="412.2" y="279.2" width="95.1" height="98.9" fill="#fff"/>
<line x1="412.2" x2="507.3" y1="363.97" y2="363.97" stroke="#e4e4e4" stroke-width="0.7"/>
<line x1="412.2" x2="507.3" y1="349.84" y2="349.84" stroke="#e4e4e4" stroke-width="0.7"/>
<line x1="412.2" x2="507.3" y1="335.71" y2="335.71" stroke="#e4e4e4" stroke-width="0.7"/>
<line x1="412.2" x2="507.3" y1="321.59" y2="321.59" stroke="#e4e4e4" stroke-width="0.7"/>
<line x1="412.2" x2="507.3" y1="307.46" y2="307.46" stroke="#e4e4e4" stroke-width="0.7"/>
<line x1="412.2" x2="507.3" y1="293.33" y2="293.33" stroke="#e4e4e4" stroke-width="0.7"/>
<line x1="412.2" x2="507.3" y1="293.6" y2="293.6" stroke="#ff3b3b" stroke-width="1.0" stroke-dasharray="2.3 1.7"/>
<polyline points="428.4,304.21 459.7,302.94 491.4,302.94" fill="none" stroke="#dcc6ea" stroke-width="1.55" stroke-linejoin="round"/>
<circle cx="428.4" cy="304.21" r="2.2" fill="#dcc6ea"/>
<circle cx="459.7" cy="302.94" r="2.2" fill="#dcc6ea"/>
<circle cx="491.4" cy="302.94" r="2.2" fill="#dcc6ea"/>
<polyline points="428.4,295.45 459.7,293.61 491.4,293.33" fill="none" stroke="#b083cf" stroke-width="1.55" stroke-linejoin="round"/>
<circle cx="428.4" cy="295.45" r="2.2" fill="#b083cf"/>
<circle cx="459.7" cy="293.61" r="2.2" fill="#b083cf"/>
<circle cx="491.4" cy="293.33" r="2.2" fill="#b083cf"/>
<polyline points="428.4,297.14 459.7,295.45 491.4,295.45" fill="none" stroke="#cbcbcb" stroke-width="1.45" stroke-dasharray="3.8 2.4" stroke-linejoin="round"/>
<circle cx="428.4" cy="297.14" r="2.2" fill="#cbcbcb"/>
<circle cx="459.7" cy="295.45" r="2.2" fill="#cbcbcb"/>
<circle cx="491.4" cy="295.45" r="2.2" fill="#cbcbcb"/>
<polyline points="428.4,288.81 459.7,286.26 491.4,285.84" fill="none" stroke="#6e4478" stroke-width="1.55" stroke-linejoin="round"/>
<circle cx="428.4" cy="288.81" r="2.2" fill="#6e4478"/>
<circle cx="459.7" cy="286.26" r="2.2" fill="#6e4478"/>
<circle cx="491.4" cy="285.84" r="2.2" fill="#6e4478"/>
<line x1="412.2" x2="414.4" y1="378.1" y2="378.1" stroke="#444" stroke-width="0.8"/>
<line x1="412.2" x2="414.4" y1="363.97" y2="363.97" stroke="#444" stroke-width="0.8"/>
<line x1="412.2" x2="414.4" y1="349.84" y2="349.84" stroke="#444" stroke-width="0.8"/>
<line x1="412.2" x2="414.4" y1="335.71" y2="335.71" stroke="#444" stroke-width="0.8"/>
<line x1="412.2" x2="414.4" y1="321.59" y2="321.59" stroke="#444" stroke-width="0.8"/>
<line x1="412.2" x2="414.4" y1="307.46" y2="307.46" stroke="#444" stroke-width="0.8"/>
<line x1="412.2" x2="414.4" y1="293.33" y2="293.33" stroke="#444" stroke-width="0.8"/>
<line x1="412.2" x2="414.4" y1="279.2" y2="279.2" stroke="#444" stroke-width="0.8"/>
<line x1="428.4" x2="428.4" y1="378.1" y2="376.1" stroke="#444" stroke-width="0.8"/>
<line x1="459.7" x2="459.7" y1="378.1" y2="376.1" stroke="#444" stroke-width="0.8"/>
<line x1="491.4" x2="491.4" y1="378.1" y2="376.1" stroke="#444" stroke-width="0.8"/>
<rect x="412.2" y="279.2" width="95.1" height="98.9" fill="none" stroke="#3c3c3c" stroke-width="0.85"/>
<text x="408.5" y="380.38" class="s" font-size="5.5" text-anchor="end" fill="#222">0</text>
<text x="408.5" y="366.25" class="s" font-size="5.5" text-anchor="end" fill="#222">0.1</text>
<text x="408.5" y="352.12" class="s" font-size="5.5" text-anchor="end" fill="#222">0.2</text>
<text x="408.5" y="337.99" class="s" font-size="5.5" text-anchor="end" fill="#222">0.3</text>
<text x="408.5" y="323.87" class="s" font-size="5.5" text-anchor="end" fill="#222">0.4</text>
<text x="408.5" y="309.74" class="s" font-size="5.5" text-anchor="end" fill="#222">0.5</text>
<text x="408.5" y="295.61" class="s" font-size="5.5" text-anchor="end" fill="#222">0.6</text>
<text x="408.5" y="281.48" class="s" font-size="5.5" text-anchor="end" fill="#222">0.7</text>
<text x="428.4" y="386.9" class="s" font-size="5.9" text-anchor="middle" fill="#222">2004</text>
<text x="428.4" y="393.9" class="s" font-size="5.9" text-anchor="middle" fill="#222">wave2</text>
<text x="459.7" y="386.9" class="s" font-size="5.9" text-anchor="middle" fill="#222">2008</text>
<text x="459.7" y="393.9" class="s" font-size="5.9" text-anchor="middle" fill="#222">wave4</text>
<text x="491.4" y="386.9" class="s" font-size="5.9" text-anchor="middle" fill="#222">2012</text>
<text x="491.4" y="393.9" class="s" font-size="5.9" text-anchor="middle" fill="#222">wave6</text>
<text x="459.9" y="404.1" class="b" font-size="6.4" font-weight="bold" text-anchor="middle" fill="#111">Year</text>
<text transform="translate(397.2,327.95) rotate(-90)" class="b" font-size="6.2" font-weight="bold" text-anchor="middle" fill="#111">WHtR</text>
</g>
<g>
<rect x="536.5" y="279.5" width="97.4" height="98.7" fill="#fff"/>
<line x1="536.5" x2="633.9" y1="367.23" y2="367.23" stroke="#e4e4e4" stroke-width="0.7"/>
<line x1="536.5" x2="633.9" y1="356.27" y2="356.27" stroke="#e4e4e4" stroke-width="0.7"/>
<line x1="536.5" x2="633.9" y1="345.3" y2="345.3" stroke="#e4e4e4" stroke-width="0.7"/>
<line x1="536.5" x2="633.9" y1="334.33" y2="334.33" stroke="#e4e4e4" stroke-width="0.7"/>
<line x1="536.5" x2="633.9" y1="323.37" y2="323.37" stroke="#e4e4e4" stroke-width="0.7"/>
<line x1="536.5" x2="633.9" y1="312.4" y2="312.4" stroke="#e4e4e4" stroke-width="0.7"/>
<line x1="536.5" x2="633.9" y1="301.43" y2="301.43" stroke="#e4e4e4" stroke-width="0.7"/>
<line x1="536.5" x2="633.9" y1="290.47" y2="290.47" stroke="#e4e4e4" stroke-width="0.7"/>
<line x1="536.5" x2="633.9" y1="289.6" y2="289.6" stroke="#ff3b3b" stroke-width="1.0" stroke-dasharray="2.3 1.7"/>
<polyline points="552.7,361.31 584.9,363.29 617.3,363.29" fill="none" stroke="#dcc6ea" stroke-width="1.55" stroke-linejoin="round"/>
<circle cx="552.7" cy="361.31" r="2.2" fill="#dcc6ea"/>
<circle cx="584.9" cy="363.29" r="2.2" fill="#dcc6ea"/>
<circle cx="617.3" cy="363.29" r="2.2" fill="#dcc6ea"/>
<polyline points="552.7,349.69 584.9,353.42 617.3,353.42" fill="none" stroke="#cbcbcb" stroke-width="1.45" stroke-dasharray="3.8 2.4" stroke-linejoin="round"/>
<circle cx="552.7" cy="349.69" r="2.2" fill="#cbcbcb"/>
<circle cx="584.9" cy="353.42" r="2.2" fill="#cbcbcb"/>
<circle cx="617.3" cy="353.42" r="2.2" fill="#cbcbcb"/>
<polyline points="552.7,358.9 584.9,361.97 617.3,360.87" fill="none" stroke="#6e4478" stroke-width="1.55" stroke-linejoin="round"/>
<circle cx="552.7" cy="358.9" r="2.2" fill="#6e4478"/>
<circle cx="584.9" cy="361.97" r="2.2" fill="#6e4478"/>
<circle cx="617.3" cy="360.87" r="2.2" fill="#6e4478"/>
<polyline points="552.7,285.64 584.9,296.39 617.3,299.24" fill="none" stroke="#b083cf" stroke-width="1.55" stroke-linejoin="round"/>
<circle cx="552.7" cy="285.64" r="2.2" fill="#b083cf"/>
<circle cx="584.9" cy="296.39" r="2.2" fill="#b083cf"/>
<circle cx="617.3" cy="299.24" r="2.2" fill="#b083cf"/>
<line x1="536.5" x2="538.7" y1="378.2" y2="378.2" stroke="#444" stroke-width="0.8"/>
<line x1="536.5" x2="538.7" y1="367.23" y2="367.23" stroke="#444" stroke-width="0.8"/>
<line x1="536.5" x2="538.7" y1="356.27" y2="356.27" stroke="#444" stroke-width="0.8"/>
<line x1="536.5" x2="538.7" y1="345.3" y2="345.3" stroke="#444" stroke-width="0.8"/>
<line x1="536.5" x2="538.7" y1="334.33" y2="334.33" stroke="#444" stroke-width="0.8"/>
<line x1="536.5" x2="538.7" y1="323.37" y2="323.37" stroke="#444" stroke-width="0.8"/>
<line x1="536.5" x2="538.7" y1="312.4" y2="312.4" stroke="#444" stroke-width="0.8"/>
<line x1="536.5" x2="538.7" y1="301.43" y2="301.43" stroke="#444" stroke-width="0.8"/>
<line x1="536.5" x2="538.7" y1="290.47" y2="290.47" stroke="#444" stroke-width="0.8"/>
<line x1="536.5" x2="538.7" y1="279.5" y2="279.5" stroke="#444" stroke-width="0.8"/>
<line x1="552.7" x2="552.7" y1="378.2" y2="376.2" stroke="#444" stroke-width="0.8"/>
<line x1="584.9" x2="584.9" y1="378.2" y2="376.2" stroke="#444" stroke-width="0.8"/>
<line x1="617.3" x2="617.3" y1="378.2" y2="376.2" stroke="#444" stroke-width="0.8"/>
<rect x="536.5" y="279.5" width="97.4" height="98.7" fill="none" stroke="#3c3c3c" stroke-width="0.85"/>
<text x="532.8" y="380.48" class="s" font-size="5.5" text-anchor="end" fill="#222">0</text>
<text x="532.8" y="369.51" class="s" font-size="5.5" text-anchor="end" fill="#222">0.5</text>
<text x="532.8" y="358.55" class="s" font-size="5.5" text-anchor="end" fill="#222">1</text>
<text x="532.8" y="347.58" class="s" font-size="5.5" text-anchor="end" fill="#222">1.5</text>
<text x="532.8" y="336.61" class="s" font-size="5.5" text-anchor="end" fill="#222">2</text>
<text x="532.8" y="325.65" class="s" font-size="5.5" text-anchor="end" fill="#222">2.5</text>
<text x="532.8" y="314.68" class="s" font-size="5.5" text-anchor="end" fill="#222">3</text>
<text x="532.8" y="303.71" class="s" font-size="5.5" text-anchor="end" fill="#222">3.5</text>
<text x="532.8" y="292.75" class="s" font-size="5.5" text-anchor="end" fill="#222">4</text>
<text x="532.8" y="281.78" class="s" font-size="5.5" text-anchor="end" fill="#222">4.5</text>
<text x="552.7" y="387" class="s" font-size="5.9" text-anchor="middle" fill="#222">2004</text>
<text x="552.7" y="394" class="s" font-size="5.9" text-anchor="middle" fill="#222">wave2</text>
<text x="584.9" y="387" class="s" font-size="5.9" text-anchor="middle" fill="#222">2008</text>
<text x="584.9" y="394" class="s" font-size="5.9" text-anchor="middle" fill="#222">wave4</text>
<text x="617.3" y="387" class="s" font-size="5.9" text-anchor="middle" fill="#222">2012</text>
<text x="617.3" y="394" class="s" font-size="5.9" text-anchor="middle" fill="#222">wave6</text>
<text x="585" y="403.9" class="b" font-size="6.4" font-weight="bold" text-anchor="middle" fill="#111">Year</text>
<text transform="translate(520.8,328.15) rotate(-90)" class="b" font-size="6.2" font-weight="bold" text-anchor="middle" fill="#111">CES-D</text>
</g>
<circle cx="394.3" cy="411.7" r="2.8" fill="#dcc6ea"/>
<text x="399.5" y="413.73" class="s" font-size="5.65" fill="#222" xml:space="preserve">Group1: No abdominal obesity &amp; No depression (50.4%)</text>
<circle cx="394.3" cy="419.7" r="2.8" fill="#b083cf"/>
<text x="399.5" y="421.73" class="s" font-size="5.65" fill="#222" xml:space="preserve">Group2: Abdominal obesity <tspan font-family='"Liberation Serif", "Times New Roman", serif' font-size='5.5'>(I)</tspan> &amp; Depression (14.3%)</text>
<circle cx="394.3" cy="427.4" r="2.8" fill="#6e4478"/>
<text x="399.5" y="429.43" class="s" font-size="5.65" fill="#222" xml:space="preserve">Group3: Abdominal obesity <tspan font-family='"Liberation Serif", "Times New Roman", serif' font-size='5.5'>(II)</tspan> &amp; No depression (35.3%)</text>
<circle cx="555.6" cy="412" r="2.8" fill="#bdbdbd"/>
<text x="560" y="414.04" class="s" font-size="5.68" fill="#222">Average trajectory</text>
<line x1="547.9" x2="556.5" y1="420.6" y2="420.6" stroke="#ff3b3b" stroke-width="1.15" stroke-dasharray="2.6 0.9"/>
<text x="559.6" y="422.64" class="s" font-size="5.68" fill="#222" xml:space="preserve">Cut-off  of  obesity and depression</text>
<text x="66" y="457.6" font-size="18.6" fill="#111" stroke="#111" stroke-width="0.3">e</text>
<text class="h" x="169.5" y="456.3" font-size="10.92" font-weight="bold" text-anchor="middle" fill="#111">HRS (n=6577)</text>
<text class="t" x="122.7" y="469.9" font-size="7.4" font-weight="bold" text-anchor="middle" fill="#111">(I) BMI Trajectories</text>
<text class="t" x="239" y="469.6" font-size="7.4" font-weight="bold" text-anchor="middle" fill="#111">(II) Depressive symptoms Trajectories</text>
<g>
<rect x="75.8" y="481.6" width="93.2" height="94.6" fill="#fff"/>
<line x1="75.8" x2="169" y1="566.74" y2="566.74" stroke="#e4e4e4" stroke-width="0.7"/>
<line x1="75.8" x2="169" y1="557.28" y2="557.28" stroke="#e4e4e4" stroke-width="0.7"/>
<line x1="75.8" x2="169" y1="547.82" y2="547.82" stroke="#e4e4e4" stroke-width="0.7"/>
<line x1="75.8" x2="169" y1="538.36" y2="538.36" stroke="#e4e4e4" stroke-width="0.7"/>
<line x1="75.8" x2="169" y1="528.9" y2="528.9" stroke="#e4e4e4" stroke-width="0.7"/>
<line x1="75.8" x2="169" y1="519.44" y2="519.44" stroke="#e4e4e4" stroke-width="0.7"/>
<line x1="75.8" x2="169" y1="509.98" y2="509.98" stroke="#e4e4e4" stroke-width="0.7"/>
<line x1="75.8" x2="169" y1="500.52" y2="500.52" stroke="#e4e4e4" stroke-width="0.7"/>
<line x1="75.8" x2="169" y1="491.06" y2="491.06" stroke="#e4e4e4" stroke-width="0.7"/>
<polyline points="91.4,554.92 122.2,555.39 153,556.33" fill="none" stroke="#f8cbad" stroke-width="1.55" stroke-linejoin="round"/>
<circle cx="91.4" cy="554.92" r="2.2" fill="#f8cbad"/>
<circle cx="122.2" cy="555.39" r="2.2" fill="#f8cbad"/>
<circle cx="153" cy="556.33" r="2.2" fill="#f8cbad"/>
<polyline points="91.4,529.85 122.2,529.14 153,530.79" fill="none" stroke="#f5886b" stroke-width="1.55" stroke-linejoin="round"/>
<circle cx="91.4" cy="529.85" r="2.2" fill="#f5886b"/>
<circle cx="122.2" cy="529.14" r="2.2" fill="#f5886b"/>
<circle cx="153" cy="530.79" r="2.2" fill="#f5886b"/>
<polyline points="91.4,531.03 122.2,530.32 153,531.74" fill="none" stroke="#cbcbcb" stroke-width="1.45" stroke-dasharray="3.8 2.4" stroke-linejoin="round"/>
<circle cx="91.4" cy="531.03" r="2.2" fill="#cbcbcb"/>
<circle cx="122.2" cy="530.32" r="2.2" fill="#cbcbcb"/>
<circle cx="153" cy="531.74" r="2.2" fill="#cbcbcb"/>
<polyline points="91.4,526.06 122.2,525.12 153,526.06" fill="none" stroke="#e8600f" stroke-width="1.55" stroke-linejoin="round"/>
<circle cx="91.4" cy="526.06" r="2.2" fill="#e8600f"/>
<circle cx="122.2" cy="525.12" r="2.2" fill="#e8600f"/>
<circle cx="153" cy="526.06" r="2.2" fill="#e8600f"/>
<polyline points="91.4,488.22 122.2,485.86 153,488.22" fill="none" stroke="#7c2a0e" stroke-width="1.55" stroke-linejoin="round"/>
<circle cx="91.4" cy="488.22" r="2.2" fill="#7c2a0e"/>
<circle cx="122.2" cy="485.86" r="2.2" fill="#7c2a0e"/>
<circle cx="153" cy="488.22" r="2.2" fill="#7c2a0e"/>
<line x1="75.8" x2="169" y1="528.5" y2="528.5" stroke="#ff3b3b" stroke-width="1" stroke-dasharray="2.2 1.4"/>
<line x1="75.8" x2="78" y1="576.2" y2="576.2" stroke="#444" stroke-width="0.8"/>
<line x1="75.8" x2="78" y1="566.74" y2="566.74" stroke="#444" stroke-width="0.8"/>
<line x1="75.8" x2="78" y1="557.28" y2="557.28" stroke="#444" stroke-width="0.8"/>
<line x1="75.8" x2="78" y1="547.82" y2="547.82" stroke="#444" stroke-width="0.8"/>
<line x1="75.8" x2="78" y1="538.36" y2="538.36" stroke="#444" stroke-width="0.8"/>
<line x1="75.8" x2="78" y1="528.9" y2="528.9" stroke="#444" stroke-width="0.8"/>
<line x1="75.8" x2="78" y1="519.44" y2="519.44" stroke="#444" stroke-width="0.8"/>
<line x1="75.8" x2="78" y1="509.98" y2="509.98" stroke="#444" stroke-width="0.8"/>
<line x1="75.8" x2="78" y1="500.52" y2="500.52" stroke="#444" stroke-width="0.8"/>
<line x1="75.8" x2="78" y1="491.06" y2="491.06" stroke="#444" stroke-width="0.8"/>
<line x1="75.8" x2="78" y1="481.6" y2="481.6" stroke="#444" stroke-width="0.8"/>
<line x1="91.4" x2="91.4" y1="576.2" y2="574.2" stroke="#444" stroke-width="0.8"/>
<line x1="122.2" x2="122.2" y1="576.2" y2="574.2" stroke="#444" stroke-width="0.8"/>
<line x1="153" x2="153" y1="576.2" y2="574.2" stroke="#444" stroke-width="0.8"/>
<rect x="75.8" y="481.6" width="93.2" height="94.6" fill="none" stroke="#3c3c3c" stroke-width="0.85"/>
<text x="72.1" y="578.48" class="s" font-size="5.5" text-anchor="end" fill="#222">20</text>
<text x="72.1" y="569.02" class="s" font-size="5.5" text-anchor="end" fill="#222">22</text>
<text x="72.1" y="559.56" class="s" font-size="5.5" text-anchor="end" fill="#222">24</text>
<text x="72.1" y="550.1" class="s" font-size="5.5" text-anchor="end" fill="#222">26</text>
<text x="72.1" y="540.64" class="s" font-size="5.5" text-anchor="end" fill="#222">28</text>
<text x="72.1" y="531.18" class="s" font-size="5.5" text-anchor="end" fill="#222">30</text>
<text x="72.1" y="521.72" class="s" font-size="5.5" text-anchor="end" fill="#222">32</text>
<text x="72.1" y="512.26" class="s" font-size="5.5" text-anchor="end" fill="#222">34</text>
<text x="72.1" y="502.8" class="s" font-size="5.5" text-anchor="end" fill="#222">36</text>
<text x="72.1" y="493.34" class="s" font-size="5.5" text-anchor="end" fill="#222">38</text>
<text x="72.1" y="483.88" class="s" font-size="5.5" text-anchor="end" fill="#222">40</text>
<text x="91.4" y="585" class="s" font-size="5.5" text-anchor="middle" fill="#222">2006/2008</text>
<text x="91.4" y="591.4" class="s" font-size="5.5" text-anchor="middle" fill="#222">wave1</text>
<text x="122.2" y="585" class="s" font-size="5.5" text-anchor="middle" fill="#222">2010/2012</text>
<text x="122.2" y="591.4" class="s" font-size="5.5" text-anchor="middle" fill="#222">wave2</text>
<text x="153" y="585" class="s" font-size="5.5" text-anchor="middle" fill="#222">2014/2016</text>
<text x="153" y="591.4" class="s" font-size="5.5" text-anchor="middle" fill="#222">wave3</text>
<text x="122.2" y="600.8" class="b" font-size="6.4" font-weight="bold" text-anchor="middle" fill="#111">Year</text>
<text transform="translate(61.4,532.2) rotate(-90)" class="b" font-size="6.05" font-weight="bold" text-anchor="middle" fill="#111">BMI kg/m^2</text>
</g>
<g>
<rect x="194" y="481.5" width="94.2" height="94.5" fill="#fff"/>
<line x1="194" x2="288.2" y1="565.5" y2="565.5" stroke="#e4e4e4" stroke-width="0.7"/>
<line x1="194" x2="288.2" y1="555" y2="555" stroke="#e4e4e4" stroke-width="0.7"/>
<line x1="194" x2="288.2" y1="544.5" y2="544.5" stroke="#e4e4e4" stroke-width="0.7"/>
<line x1="194" x2="288.2" y1="534" y2="534" stroke="#e4e4e4" stroke-width="0.7"/>
<line x1="194" x2="288.2" y1="523.5" y2="523.5" stroke="#e4e4e4" stroke-width="0.7"/>
<line x1="194" x2="288.2" y1="513" y2="513" stroke="#e4e4e4" stroke-width="0.7"/>
<line x1="194" x2="288.2" y1="502.5" y2="502.5" stroke="#e4e4e4" stroke-width="0.7"/>
<line x1="194" x2="288.2" y1="492" y2="492" stroke="#e4e4e4" stroke-width="0.7"/>
<line x1="194" x2="288.2" y1="492.3" y2="492.3" stroke="#ff3b3b" stroke-width="1.0" stroke-dasharray="2.2 1.4"/>
<polyline points="209.2,562.35 240.8,563.4 272.3,560.88" fill="none" stroke="#e8600f" stroke-width="1.55" stroke-linejoin="round"/>
<circle cx="209.2" cy="562.35" r="2.2" fill="#e8600f"/>
<circle cx="240.8" cy="563.4" r="2.2" fill="#e8600f"/>
<circle cx="272.3" cy="560.88" r="2.2" fill="#e8600f"/>
<polyline points="209.2,562.14 240.8,562.77 272.3,560.67" fill="none" stroke="#f8cbad" stroke-width="1.55" stroke-linejoin="round"/>
<circle cx="209.2" cy="562.14" r="2.2" fill="#f8cbad"/>
<circle cx="240.8" cy="562.77" r="2.2" fill="#f8cbad"/>
<circle cx="272.3" cy="560.67" r="2.2" fill="#f8cbad"/>
<polyline points="209.2,551.85 240.8,551.64 272.3,550.8" fill="none" stroke="#cbcbcb" stroke-width="1.45" stroke-dasharray="3.8 2.4" stroke-linejoin="round"/>
<polyline points="209.2,552.48 240.8,555 272.3,550.8" fill="none" stroke="#7c2a0e" stroke-width="1.55" stroke-linejoin="round"/>
<circle cx="209.2" cy="552.48" r="2.2" fill="#7c2a0e"/>
<circle cx="240.8" cy="555" r="2.2" fill="#7c2a0e"/>
<circle cx="272.3" cy="550.8" r="2.2" fill="#7c2a0e"/>
<polyline points="209.2,487.8 240.8,486.12 272.3,486.75" fill="none" stroke="#f5886b" stroke-width="1.55" stroke-linejoin="round"/>
<circle cx="209.2" cy="487.8" r="2.2" fill="#f5886b"/>
<circle cx="240.8" cy="486.12" r="2.2" fill="#f5886b"/>
<circle cx="272.3" cy="486.75" r="2.2" fill="#f5886b"/>
<line x1="194" x2="196.2" y1="576" y2="576" stroke="#444" stroke-width="0.8"/>
<line x1="194" x2="196.2" y1="565.5" y2="565.5" stroke="#444" stroke-width="0.8"/>
<line x1="194" x2="196.2" y1="555" y2="555" stroke="#444" stroke-width="0.8"/>
<line x1="194" x2="196.2" y1="544.5" y2="544.5" stroke="#444" stroke-width="0.8"/>
<line x1="194" x2="196.2" y1="534" y2="534" stroke="#444" stroke-width="0.8"/>
<line x1="194" x2="196.2" y1="523.5" y2="523.5" stroke="#444" stroke-width="0.8"/>
<line x1="194" x2="196.2" y1="513" y2="513" stroke="#444" stroke-width="0.8"/>
<line x1="194" x2="196.2" y1="502.5" y2="502.5" stroke="#444" stroke-width="0.8"/>
<line x1="194" x2="196.2" y1="492" y2="492" stroke="#444" stroke-width="0.8"/>
<line x1="194" x2="196.2" y1="481.5" y2="481.5" stroke="#444" stroke-width="0.8"/>
<line x1="209.2" x2="209.2" y1="576.0" y2="574" stroke="#444" stroke-width="0.8"/>
<line x1="240.8" x2="240.8" y1="576.0" y2="574" stroke="#444" stroke-width="0.8"/>
<line x1="272.3" x2="272.3" y1="576.0" y2="574" stroke="#444" stroke-width="0.8"/>
<rect x="194" y="481.5" width="94.2" height="94.5" fill="none" stroke="#3c3c3c" stroke-width="0.85"/>
<text x="190.3" y="578.28" class="s" font-size="5.5" text-anchor="end" fill="#222">0</text>
<text x="190.3" y="567.78" class="s" font-size="5.5" text-anchor="end" fill="#222">0.5</text>
<text x="190.3" y="557.28" class="s" font-size="5.5" text-anchor="end" fill="#222">1</text>
<text x="190.3" y="546.78" class="s" font-size="5.5" text-anchor="end" fill="#222">1.5</text>
<text x="190.3" y="536.28" class="s" font-size="5.5" text-anchor="end" fill="#222">2</text>
<text x="190.3" y="525.78" class="s" font-size="5.5" text-anchor="end" fill="#222">2.5</text>
<text x="190.3" y="515.28" class="s" font-size="5.5" text-anchor="end" fill="#222">3</text>
<text x="190.3" y="504.78" class="s" font-size="5.5" text-anchor="end" fill="#222">3.5</text>
<text x="190.3" y="494.28" class="s" font-size="5.5" text-anchor="end" fill="#222">4</text>
<text x="190.3" y="483.78" class="s" font-size="5.5" text-anchor="end" fill="#222">4.5</text>
<text x="209.2" y="584.6" class="s" font-size="5.5" text-anchor="middle" fill="#222">2006/2008</text>
<text x="209.2" y="591.4" class="s" font-size="5.5" text-anchor="middle" fill="#222">wave1</text>
<text x="240.8" y="584.6" class="s" font-size="5.5" text-anchor="middle" fill="#222">2010/2012</text>
<text x="240.8" y="591.4" class="s" font-size="5.5" text-anchor="middle" fill="#222">wave2</text>
<text x="272.3" y="584.6" class="s" font-size="5.5" text-anchor="middle" fill="#222">2014/2016</text>
<text x="272.3" y="591.4" class="s" font-size="5.5" text-anchor="middle" fill="#222">wave3</text>
<text x="240.75" y="600.6" class="b" font-size="6.4" font-weight="bold" text-anchor="middle" fill="#111">Year</text>
<text transform="translate(178.2,527.75) rotate(-90)" class="b" font-size="6.2" font-weight="bold" text-anchor="middle" fill="#111">CES-D</text>
</g>
<circle cx="60.6" cy="609.5" r="2.8" fill="#f8cbad"/>
<text x="65" y="611.48" class="s" font-size="5.5" fill="#222" xml:space="preserve">Group1: Normal weight &amp; No depression (35.0%)</text>
<circle cx="60.6" cy="617.7" r="2.8" fill="#f5886b"/>
<text x="65" y="619.68" class="s" font-size="5.5" fill="#222" xml:space="preserve">Group2: Overweight &amp; Depression (12.4%)</text>
<circle cx="60.6" cy="626.3" r="2.8" fill="#e8600f"/>
<text x="65" y="628.28" class="s" font-size="5.5" fill="#222" xml:space="preserve">Group3: Obesity (I) &amp; No depression (38.4%)</text>
<circle cx="60.6" cy="634.4" r="2.8" fill="#7c2a0e"/>
<text x="65" y="636.38" class="s" font-size="5.5" fill="#222" xml:space="preserve">Group4: Obeisty <tspan font-family='"Liberation Serif", "Times New Roman", serif' font-size='5.5'>(II)</tspan> &amp; No depression (14.2%)</text>
<circle cx="202.9" cy="610" r="2.8" fill="#bdbdbd"/>
<text x="207.8" y="611.98" class="s" font-size="5.5" fill="#222">Average trajectory</text>
<line x1="196.5" x2="205.9" y1="618.2" y2="618.2" stroke="#ff3b3b" stroke-width="1.15" stroke-dasharray="2.6 0.9"/>
<text x="207.5" y="620.18" class="s" font-size="5.5" fill="#222" xml:space="preserve">Cut-off  of  obesity and depression</text>
<text x="403" y="459.9" font-size="18.6" fill="#111" stroke="#111" stroke-width="0.3">f</text>
<text class="h" x="534.4" y="457.2" font-size="11.24" font-weight="bold" text-anchor="middle" fill="#111">HRS (n=6646)</text>
<text class="t" x="462.2" y="470.8" font-size="7.6" font-weight="bold" text-anchor="middle" fill="#111">(I) WHtR Trajectories</text>
<text class="t" x="580" y="471.2" font-size="7.54" font-weight="bold" text-anchor="middle" fill="#111"><tspan font-family='"Liberation Serif", "Times New Roman", serif' font-size="7.54">(II)</tspan> Depressive symptoms Trajectories</text>
<g>
<rect x="413" y="480.8" width="94.1" height="99.4" fill="#fff"/>
<line x1="413" x2="507.1" y1="563.63" y2="563.63" stroke="#e4e4e4" stroke-width="0.7"/>
<line x1="413" x2="507.1" y1="547.07" y2="547.07" stroke="#e4e4e4" stroke-width="0.7"/>
<line x1="413" x2="507.1" y1="530.5" y2="530.5" stroke="#e4e4e4" stroke-width="0.7"/>
<line x1="413" x2="507.1" y1="513.93" y2="513.93" stroke="#e4e4e4" stroke-width="0.7"/>
<line x1="413" x2="507.1" y1="497.37" y2="497.37" stroke="#e4e4e4" stroke-width="0.7"/>
<line x1="413" x2="507.1" y1="514.55" y2="514.55" stroke="#ff3b3b" stroke-width="1.0" stroke-dasharray="2.2 1.4"/>
<polyline points="429,522.71 460.1,521.39 491.7,520.23" fill="none" stroke="#f8cbad" stroke-width="1.55" stroke-linejoin="round"/>
<circle cx="429" cy="522.71" r="2.2" fill="#f8cbad"/>
<circle cx="460.1" cy="521.39" r="2.2" fill="#f8cbad"/>
<circle cx="491.7" cy="520.23" r="2.2" fill="#f8cbad"/>
<polyline points="429,513.11 460.1,511.95 491.7,510.29" fill="none" stroke="#cbcbcb" stroke-width="1.45" stroke-dasharray="3.8 2.4" stroke-linejoin="round"/>
<circle cx="429" cy="513.11" r="2.2" fill="#cbcbcb"/>
<circle cx="460.1" cy="511.95" r="2.2" fill="#cbcbcb"/>
<circle cx="491.7" cy="510.29" r="2.2" fill="#cbcbcb"/>
<polyline points="429,509.29 460.1,508.14 491.7,506.81" fill="none" stroke="#e8600f" stroke-width="1.55" stroke-linejoin="round"/>
<circle cx="429" cy="509.29" r="2.2" fill="#e8600f"/>
<circle cx="460.1" cy="508.14" r="2.2" fill="#e8600f"/>
<circle cx="491.7" cy="506.81" r="2.2" fill="#e8600f"/>
<polyline points="429,501.18 460.1,499.35 491.7,497.86" fill="none" stroke="#7c2a0e" stroke-width="1.55" stroke-linejoin="round"/>
<circle cx="429" cy="501.18" r="2.2" fill="#7c2a0e"/>
<circle cx="460.1" cy="499.35" r="2.2" fill="#7c2a0e"/>
<circle cx="491.7" cy="497.86" r="2.2" fill="#7c2a0e"/>
<line x1="413" x2="415.2" y1="580.2" y2="580.2" stroke="#444" stroke-width="0.8"/>
<line x1="413" x2="415.2" y1="563.63" y2="563.63" stroke="#444" stroke-width="0.8"/>
<line x1="413" x2="415.2" y1="547.07" y2="547.07" stroke="#444" stroke-width="0.8"/>
<line x1="413" x2="415.2" y1="530.5" y2="530.5" stroke="#444" stroke-width="0.8"/>
<line x1="413" x2="415.2" y1="513.93" y2="513.93" stroke="#444" stroke-width="0.8"/>
<line x1="413" x2="415.2" y1="497.37" y2="497.37" stroke="#444" stroke-width="0.8"/>
<line x1="413" x2="415.2" y1="480.8" y2="480.8" stroke="#444" stroke-width="0.8"/>
<line x1="429" x2="429" y1="580.2" y2="578.2" stroke="#444" stroke-width="0.8"/>
<line x1="460.1" x2="460.1" y1="580.2" y2="578.2" stroke="#444" stroke-width="0.8"/>
<line x1="491.7" x2="491.7" y1="580.2" y2="578.2" stroke="#444" stroke-width="0.8"/>
<rect x="413" y="480.8" width="94.1" height="99.4" fill="none" stroke="#3c3c3c" stroke-width="0.85"/>
<text x="409.3" y="582.48" class="s" font-size="5.5" text-anchor="end" fill="#222">0.2</text>
<text x="409.3" y="565.91" class="s" font-size="5.5" text-anchor="end" fill="#222">0.3</text>
<text x="409.3" y="549.35" class="s" font-size="5.5" text-anchor="end" fill="#222">0.4</text>
<text x="409.3" y="532.78" class="s" font-size="5.5" text-anchor="end" fill="#222">0.5</text>
<text x="409.3" y="516.21" class="s" font-size="5.5" text-anchor="end" fill="#222">0.6</text>
<text x="409.3" y="499.65" class="s" font-size="5.5" text-anchor="end" fill="#222">0.7</text>
<text x="409.3" y="483.08" class="s" font-size="5.5" text-anchor="end" fill="#222">0.8</text>
<text x="429" y="589.4" class="s" font-size="5.5" text-anchor="middle" fill="#222">2006/2008</text>
<text x="429" y="596.4" class="s" font-size="5.5" text-anchor="middle" fill="#222">wave1</text>
<text x="460.1" y="589.4" class="s" font-size="5.5" text-anchor="middle" fill="#222">2010/2012</text>
<text x="460.1" y="596.4" class="s" font-size="5.5" text-anchor="middle" fill="#222">wave2</text>
<text x="491.7" y="589.4" class="s" font-size="5.5" text-anchor="middle" fill="#222">2014/2016</text>
<text x="491.7" y="596.4" class="s" font-size="5.5" text-anchor="middle" fill="#222">wave3</text>
<text x="460.35" y="606.4" class="b" font-size="6.4" font-weight="bold" text-anchor="middle" fill="#111">Year</text>
<text transform="translate(398.4,529.3) rotate(-90)" class="b" font-size="6.2" font-weight="bold" text-anchor="middle" fill="#111">WHTR</text>
</g>
<g>
<rect x="537.6" y="480.2" width="97" height="99.3" fill="#fff"/>
<line x1="537.6" x2="634.6" y1="568.47" y2="568.47" stroke="#e4e4e4" stroke-width="0.7"/>
<line x1="537.6" x2="634.6" y1="557.43" y2="557.43" stroke="#e4e4e4" stroke-width="0.7"/>
<line x1="537.6" x2="634.6" y1="546.4" y2="546.4" stroke="#e4e4e4" stroke-width="0.7"/>
<line x1="537.6" x2="634.6" y1="535.37" y2="535.37" stroke="#e4e4e4" stroke-width="0.7"/>
<line x1="537.6" x2="634.6" y1="524.33" y2="524.33" stroke="#e4e4e4" stroke-width="0.7"/>
<line x1="537.6" x2="634.6" y1="513.3" y2="513.3" stroke="#e4e4e4" stroke-width="0.7"/>
<line x1="537.6" x2="634.6" y1="502.27" y2="502.27" stroke="#e4e4e4" stroke-width="0.7"/>
<line x1="537.6" x2="634.6" y1="491.23" y2="491.23" stroke="#e4e4e4" stroke-width="0.7"/>
<line x1="537.6" x2="634.6" y1="491.1" y2="491.1" stroke="#ff3b3b" stroke-width="1.0" stroke-dasharray="2.2 1.4"/>
<polyline points="553.9,566.26 586.1,566.92 618.6,565.16" fill="none" stroke="#f8cbad" stroke-width="1.55" stroke-linejoin="round"/>
<circle cx="553.9" cy="566.26" r="2.2" fill="#f8cbad"/>
<circle cx="586.1" cy="566.92" r="2.2" fill="#f8cbad"/>
<circle cx="618.6" cy="565.16" r="2.2" fill="#f8cbad"/>
<polyline points="553.9,554.12 586.1,554.56 618.6,552.58" fill="none" stroke="#cbcbcb" stroke-width="1.45" stroke-dasharray="3.8 2.4" stroke-linejoin="round"/>
<circle cx="553.9" cy="554.12" r="2.2" fill="#cbcbcb"/>
<circle cx="586.1" cy="554.56" r="2.2" fill="#cbcbcb"/>
<circle cx="618.6" cy="552.58" r="2.2" fill="#cbcbcb"/>
<polyline points="553.9,562.95 586.1,563.39 618.6,560.3" fill="none" stroke="#7c2a0e" stroke-width="1.55" stroke-linejoin="round"/>
<circle cx="553.9" cy="562.95" r="2.2" fill="#7c2a0e"/>
<circle cx="586.1" cy="563.39" r="2.2" fill="#7c2a0e"/>
<circle cx="618.6" cy="560.3" r="2.2" fill="#7c2a0e"/>
<polyline points="553.9,490.57 586.1,489.47 618.6,489.69" fill="none" stroke="#e8600f" stroke-width="1.55" stroke-linejoin="round"/>
<circle cx="553.9" cy="490.57" r="2.2" fill="#e8600f"/>
<circle cx="586.1" cy="489.47" r="2.2" fill="#e8600f"/>
<circle cx="618.6" cy="489.69" r="2.2" fill="#e8600f"/>
<line x1="537.6" x2="539.8" y1="579.5" y2="579.5" stroke="#444" stroke-width="0.8"/>
<line x1="537.6" x2="539.8" y1="568.47" y2="568.47" stroke="#444" stroke-width="0.8"/>
<line x1="537.6" x2="539.8" y1="557.43" y2="557.43" stroke="#444" stroke-width="0.8"/>
<line x1="537.6" x2="539.8" y1="546.4" y2="546.4" stroke="#444" stroke-width="0.8"/>
<line x1="537.6" x2="539.8" y1="535.37" y2="535.37" stroke="#444" stroke-width="0.8"/>
<line x1="537.6" x2="539.8" y1="524.33" y2="524.33" stroke="#444" stroke-width="0.8"/>
<line x1="537.6" x2="539.8" y1="513.3" y2="513.3" stroke="#444" stroke-width="0.8"/>
<line x1="537.6" x2="539.8" y1="502.27" y2="502.27" stroke="#444" stroke-width="0.8"/>
<line x1="537.6" x2="539.8" y1="491.23" y2="491.23" stroke="#444" stroke-width="0.8"/>
<line x1="537.6" x2="539.8" y1="480.2" y2="480.2" stroke="#444" stroke-width="0.8"/>
<line x1="553.9" x2="553.9" y1="579.5" y2="577.5" stroke="#444" stroke-width="0.8"/>
<line x1="586.1" x2="586.1" y1="579.5" y2="577.5" stroke="#444" stroke-width="0.8"/>
<line x1="618.6" x2="618.6" y1="579.5" y2="577.5" stroke="#444" stroke-width="0.8"/>
<rect x="537.6" y="480.2" width="97" height="99.3" fill="none" stroke="#3c3c3c" stroke-width="0.85"/>
<text x="533.9" y="581.78" class="s" font-size="5.5" text-anchor="end" fill="#222">0</text>
<text x="533.9" y="570.75" class="s" font-size="5.5" text-anchor="end" fill="#222">0.5</text>
<text x="533.9" y="559.71" class="s" font-size="5.5" text-anchor="end" fill="#222">1</text>
<text x="533.9" y="548.68" class="s" font-size="5.5" text-anchor="end" fill="#222">1.5</text>
<text x="533.9" y="537.65" class="s" font-size="5.5" text-anchor="end" fill="#222">2</text>
<text x="533.9" y="526.61" class="s" font-size="5.5" text-anchor="end" fill="#222">2.5</text>
<text x="533.9" y="515.58" class="s" font-size="5.5" text-anchor="end" fill="#222">3</text>
<text x="533.9" y="504.55" class="s" font-size="5.5" text-anchor="end" fill="#222">3.5</text>
<text x="533.9" y="493.51" class="s" font-size="5.5" text-anchor="end" fill="#222">4</text>
<text x="533.9" y="482.48" class="s" font-size="5.5" text-anchor="end" fill="#222">4.5</text>
<text x="553.9" y="588.7" class="s" font-size="5.5" text-anchor="middle" fill="#222">2006/2008</text>
<text x="553.9" y="595.7" class="s" font-size="5.5" text-anchor="middle" fill="#222">wave1</text>
<text x="586.1" y="588.7" class="s" font-size="5.5" text-anchor="middle" fill="#222">2010/2012</text>
<text x="586.1" y="595.7" class="s" font-size="5.5" text-anchor="middle" fill="#222">wave2</text>
<text x="618.6" y="588.7" class="s" font-size="5.5" text-anchor="middle" fill="#222">2014/2016</text>
<text x="618.6" y="595.7" class="s" font-size="5.5" text-anchor="middle" fill="#222">wave3</text>
<text x="586.25" y="605.3" class="b" font-size="6.4" font-weight="bold" text-anchor="middle" fill="#111">Year</text>
<text transform="translate(522.4,527.05) rotate(-90)" class="b" font-size="6.2" font-weight="bold" text-anchor="middle" fill="#111">CES-D</text>
</g>
<circle cx="390.8" cy="615.2" r="2.8" fill="#f8cbad"/>
<text x="396" y="617.26" class="s" font-size="5.72" fill="#222" xml:space="preserve">Group1: No abdominal obesity &amp; No depression  (42.2%)</text>
<circle cx="390.8" cy="624.1" r="2.8" fill="#e8600f"/>
<text x="396" y="626.16" class="s" font-size="5.72" fill="#222" xml:space="preserve">Group2: Abdominal obesity <tspan font-family='"Liberation Serif", "Times New Roman", serif' font-size='5.5'>(I)</tspan> &amp; Depression  (20.9%)</text>
<circle cx="390.8" cy="632.5" r="2.8" fill="#7c2a0e"/>
<text x="396" y="634.56" class="s" font-size="5.72" fill="#222" xml:space="preserve">Group3: Abdominal obesity <tspan font-family='"Liberation Serif", "Times New Roman", serif' font-size='5.5'>(II)</tspan> &amp; No depression (36.9%)</text>
<circle cx="555.4" cy="615.7" r="2.8" fill="#bdbdbd"/>
<text x="560" y="617.74" class="s" font-size="5.68" fill="#222">Average trajectory</text>
<line x1="548.4" x2="557" y1="624.6" y2="624.6" stroke="#ff3b3b" stroke-width="1.15" stroke-dasharray="2.6 0.9"/>
<text x="560" y="626.64" class="s" font-size="5.68" fill="#222" xml:space="preserve">Cut-off  of  obesity and depression</text>
<text x="68.2" y="658.7" font-size="18.6" fill="#111" stroke="#111" stroke-width="0.3">g</text>
<text class="h" x="172.7" y="657.2" font-size="10.74" font-weight="bold" text-anchor="middle" fill="#111">MHAS (n=6932)</text>
<text class="t" x="123.8" y="671.2" font-size="7.17" font-weight="bold" text-anchor="middle" fill="#111"><tspan font-family='"Liberation Serif", "Times New Roman", serif' font-size="7.17">(I)</tspan> BMI Trajectories</text>
<text class="t" x="237.8" y="671.2" font-size="7.17" font-weight="bold" text-anchor="middle" fill="#111"><tspan font-family='"Liberation Serif", "Times New Roman", serif' font-size="7.17">(II)</tspan> Depressive symptoms Trajectories</text>
<g>
<rect x="78.1" y="680.2" width="90.6" height="94.1" fill="#fff"/>
<line x1="78.1" x2="168.7" y1="762.54" y2="762.54" stroke="#e4e4e4" stroke-width="0.7"/>
<line x1="78.1" x2="168.7" y1="750.77" y2="750.77" stroke="#e4e4e4" stroke-width="0.7"/>
<line x1="78.1" x2="168.7" y1="739.01" y2="739.01" stroke="#e4e4e4" stroke-width="0.7"/>
<line x1="78.1" x2="168.7" y1="727.25" y2="727.25" stroke="#e4e4e4" stroke-width="0.7"/>
<line x1="78.1" x2="168.7" y1="715.49" y2="715.49" stroke="#e4e4e4" stroke-width="0.7"/>
<line x1="78.1" x2="168.7" y1="703.73" y2="703.73" stroke="#e4e4e4" stroke-width="0.7"/>
<line x1="78.1" x2="168.7" y1="691.96" y2="691.96" stroke="#e4e4e4" stroke-width="0.7"/>
<polyline points="93,760.48 123.2,761.66 153.3,762.24" fill="none" stroke="#c5e0b4" stroke-width="1.55" stroke-linejoin="round"/>
<circle cx="93" cy="760.48" r="2.2" fill="#c5e0b4"/>
<circle cx="123.2" cy="761.66" r="2.2" fill="#c5e0b4"/>
<circle cx="153.3" cy="762.24" r="2.2" fill="#c5e0b4"/>
<polyline points="93,747.83 123.2,748.72 153.3,749.89" fill="none" stroke="#4cb96f" stroke-width="1.55" stroke-linejoin="round"/>
<circle cx="93" cy="747.83" r="2.2" fill="#4cb96f"/>
<circle cx="123.2" cy="748.72" r="2.2" fill="#4cb96f"/>
<circle cx="153.3" cy="749.89" r="2.2" fill="#4cb96f"/>
<polyline points="93,739.31 123.2,739.6 153.3,740.78" fill="none" stroke="#cbcbcb" stroke-width="1.45" stroke-dasharray="3.8 2.4" stroke-linejoin="round"/>
<circle cx="93" cy="739.31" r="2.2" fill="#cbcbcb"/>
<circle cx="123.2" cy="739.6" r="2.2" fill="#cbcbcb"/>
<circle cx="153.3" cy="740.78" r="2.2" fill="#cbcbcb"/>
<polyline points="93,728.72 123.2,728.72 153.3,730.19" fill="none" stroke="#8fd14f" stroke-width="1.55" stroke-linejoin="round"/>
<circle cx="93" cy="728.72" r="2.2" fill="#8fd14f"/>
<circle cx="123.2" cy="728.72" r="2.2" fill="#8fd14f"/>
<circle cx="153.3" cy="730.19" r="2.2" fill="#8fd14f"/>
<polyline points="93,693.43 123.2,691.37 153.3,693.14" fill="none" stroke="#4a7d2c" stroke-width="1.55" stroke-linejoin="round"/>
<circle cx="93" cy="693.43" r="2.2" fill="#4a7d2c"/>
<circle cx="123.2" cy="691.37" r="2.2" fill="#4a7d2c"/>
<circle cx="153.3" cy="693.14" r="2.2" fill="#4a7d2c"/>
<line x1="78.1" x2="168.7" y1="727.5" y2="727.5" stroke="#ff3b3b" stroke-width="1.0" stroke-dasharray="2.2 1.4"/>
<line x1="78.1" x2="80.3" y1="774.3" y2="774.3" stroke="#444" stroke-width="0.8"/>
<line x1="78.1" x2="80.3" y1="762.54" y2="762.54" stroke="#444" stroke-width="0.8"/>
<line x1="78.1" x2="80.3" y1="750.77" y2="750.77" stroke="#444" stroke-width="0.8"/>
<line x1="78.1" x2="80.3" y1="739.01" y2="739.01" stroke="#444" stroke-width="0.8"/>
<line x1="78.1" x2="80.3" y1="727.25" y2="727.25" stroke="#444" stroke-width="0.8"/>
<line x1="78.1" x2="80.3" y1="715.49" y2="715.49" stroke="#444" stroke-width="0.8"/>
<line x1="78.1" x2="80.3" y1="703.73" y2="703.73" stroke="#444" stroke-width="0.8"/>
<line x1="78.1" x2="80.3" y1="691.96" y2="691.96" stroke="#444" stroke-width="0.8"/>
<line x1="78.1" x2="80.3" y1="680.2" y2="680.2" stroke="#444" stroke-width="0.8"/>
<line x1="93" x2="93" y1="774.3" y2="772.3" stroke="#444" stroke-width="0.8"/>
<line x1="123.2" x2="123.2" y1="774.3" y2="772.3" stroke="#444" stroke-width="0.8"/>
<line x1="153.3" x2="153.3" y1="774.3" y2="772.3" stroke="#444" stroke-width="0.8"/>
<rect x="78.1" y="680.2" width="90.6" height="94.1" fill="none" stroke="#3c3c3c" stroke-width="0.85"/>
<text x="74.4" y="776.36" class="s" font-size="4.9" text-anchor="end" fill="#222">22</text>
<text x="74.4" y="764.6" class="s" font-size="4.9" text-anchor="end" fill="#222">24</text>
<text x="74.4" y="752.84" class="s" font-size="4.9" text-anchor="end" fill="#222">26</text>
<text x="74.4" y="741.08" class="s" font-size="4.9" text-anchor="end" fill="#222">28</text>
<text x="74.4" y="729.31" class="s" font-size="4.9" text-anchor="end" fill="#222">30</text>
<text x="74.4" y="717.55" class="s" font-size="4.9" text-anchor="end" fill="#222">32</text>
<text x="74.4" y="705.79" class="s" font-size="4.9" text-anchor="end" fill="#222">34</text>
<text x="74.4" y="694.03" class="s" font-size="4.9" text-anchor="end" fill="#222">36</text>
<text x="74.4" y="682.26" class="s" font-size="4.9" text-anchor="end" fill="#222">38</text>
<text x="93" y="782.1" class="s" font-size="4.9" text-anchor="middle" fill="#222">2013</text>
<text x="93" y="788.1" class="s" font-size="4.9" text-anchor="middle" fill="#222">wave3</text>
<text x="123.2" y="782.1" class="s" font-size="4.9" text-anchor="middle" fill="#222">2015</text>
<text x="123.2" y="788.1" class="s" font-size="4.9" text-anchor="middle" fill="#222">wave4</text>
<text x="153.3" y="782.1" class="s" font-size="4.9" text-anchor="middle" fill="#222">2018</text>
<text x="153.3" y="788.1" class="s" font-size="4.9" text-anchor="middle" fill="#222">wave5</text>
<text x="123.15" y="797.3" class="b" font-size="6.4" font-weight="bold" text-anchor="middle" fill="#111">Year</text>
<text transform="translate(63.8,735.95) rotate(-90)" class="b" font-size="6.05" font-weight="bold" text-anchor="middle" fill="#111">BMI kg/m^2</text>
</g>
<g>
<rect x="194.4" y="680.2" width="95.4" height="93.5" fill="#fff"/>
<line x1="194.4" x2="289.8" y1="766.51" y2="766.51" stroke="#e4e4e4" stroke-width="0.7"/>
<line x1="194.4" x2="289.8" y1="759.32" y2="759.32" stroke="#e4e4e4" stroke-width="0.7"/>
<line x1="194.4" x2="289.8" y1="752.12" y2="752.12" stroke="#e4e4e4" stroke-width="0.7"/>
<line x1="194.4" x2="289.8" y1="744.93" y2="744.93" stroke="#e4e4e4" stroke-width="0.7"/>
<line x1="194.4" x2="289.8" y1="737.74" y2="737.74" stroke="#e4e4e4" stroke-width="0.7"/>
<line x1="194.4" x2="289.8" y1="730.55" y2="730.55" stroke="#e4e4e4" stroke-width="0.7"/>
<line x1="194.4" x2="289.8" y1="723.35" y2="723.35" stroke="#e4e4e4" stroke-width="0.7"/>
<line x1="194.4" x2="289.8" y1="716.16" y2="716.16" stroke="#e4e4e4" stroke-width="0.7"/>
<line x1="194.4" x2="289.8" y1="708.97" y2="708.97" stroke="#e4e4e4" stroke-width="0.7"/>
<line x1="194.4" x2="289.8" y1="701.78" y2="701.78" stroke="#e4e4e4" stroke-width="0.7"/>
<line x1="194.4" x2="289.8" y1="694.58" y2="694.58" stroke="#e4e4e4" stroke-width="0.7"/>
<line x1="194.4" x2="289.8" y1="687.39" y2="687.39" stroke="#e4e4e4" stroke-width="0.7"/>
<line x1="194.4" x2="289.8" y1="702.4" y2="702.4" stroke="#ff3b3b" stroke-width="1.0" stroke-dasharray="2.2 1.4"/>
<polyline points="210.4,745.65 242.1,747.09 274,744.93" fill="none" stroke="#c5e0b4" stroke-width="1.55" stroke-linejoin="round"/>
<circle cx="210.4" cy="745.65" r="2.2" fill="#c5e0b4"/>
<circle cx="242.1" cy="747.09" r="2.2" fill="#c5e0b4"/>
<circle cx="274" cy="744.93" r="2.2" fill="#c5e0b4"/>
<polyline points="210.4,746.08 242.1,747.52 274,744.93" fill="none" stroke="#8fd14f" stroke-width="1.55" stroke-linejoin="round"/>
<circle cx="210.4" cy="746.08" r="2.2" fill="#8fd14f"/>
<circle cx="242.1" cy="747.52" r="2.2" fill="#8fd14f"/>
<circle cx="274" cy="744.93" r="2.2" fill="#8fd14f"/>
<polyline points="210.4,729.11 242.1,729.11 274,728.39" fill="none" stroke="#cbcbcb" stroke-width="1.45" stroke-dasharray="3.8 2.4" stroke-linejoin="round"/>
<circle cx="210.4" cy="729.11" r="2.2" fill="#cbcbcb"/>
<circle cx="242.1" cy="729.11" r="2.2" fill="#cbcbcb"/>
<circle cx="274" cy="728.39" r="2.2" fill="#cbcbcb"/>
<polyline points="210.4,712.13 242.1,714 274,713.28" fill="none" stroke="#4a7d2c" stroke-width="1.55" stroke-linejoin="round"/>
<circle cx="210.4" cy="712.13" r="2.2" fill="#4a7d2c"/>
<circle cx="242.1" cy="714" r="2.2" fill="#4a7d2c"/>
<circle cx="274" cy="713.28" r="2.2" fill="#4a7d2c"/>
<polyline points="210.4,693.15 242.1,689.55 274,692.43" fill="none" stroke="#4cb96f" stroke-width="1.55" stroke-linejoin="round"/>
<circle cx="210.4" cy="693.15" r="2.2" fill="#4cb96f"/>
<circle cx="242.1" cy="689.55" r="2.2" fill="#4cb96f"/>
<circle cx="274" cy="692.43" r="2.2" fill="#4cb96f"/>
<line x1="194.4" x2="196.6" y1="773.7" y2="773.7" stroke="#444" stroke-width="0.8"/>
<line x1="194.4" x2="196.6" y1="766.51" y2="766.51" stroke="#444" stroke-width="0.8"/>
<line x1="194.4" x2="196.6" y1="759.32" y2="759.32" stroke="#444" stroke-width="0.8"/>
<line x1="194.4" x2="196.6" y1="752.12" y2="752.12" stroke="#444" stroke-width="0.8"/>
<line x1="194.4" x2="196.6" y1="744.93" y2="744.93" stroke="#444" stroke-width="0.8"/>
<line x1="194.4" x2="196.6" y1="737.74" y2="737.74" stroke="#444" stroke-width="0.8"/>
<line x1="194.4" x2="196.6" y1="730.55" y2="730.55" stroke="#444" stroke-width="0.8"/>
<line x1="194.4" x2="196.6" y1="723.35" y2="723.35" stroke="#444" stroke-width="0.8"/>
<line x1="194.4" x2="196.6" y1="716.16" y2="716.16" stroke="#444" stroke-width="0.8"/>
<line x1="194.4" x2="196.6" y1="708.97" y2="708.97" stroke="#444" stroke-width="0.8"/>
<line x1="194.4" x2="196.6" y1="701.78" y2="701.78" stroke="#444" stroke-width="0.8"/>
<line x1="194.4" x2="196.6" y1="694.58" y2="694.58" stroke="#444" stroke-width="0.8"/>
<line x1="194.4" x2="196.6" y1="687.39" y2="687.39" stroke="#444" stroke-width="0.8"/>
<line x1="194.4" x2="196.6" y1="680.2" y2="680.2" stroke="#444" stroke-width="0.8"/>
<line x1="210.4" x2="210.4" y1="773.7" y2="771.7" stroke="#444" stroke-width="0.8"/>
<line x1="242.1" x2="242.1" y1="773.7" y2="771.7" stroke="#444" stroke-width="0.8"/>
<line x1="274" x2="274" y1="773.7" y2="771.7" stroke="#444" stroke-width="0.8"/>
<rect x="194.4" y="680.2" width="95.4" height="93.5" fill="none" stroke="#3c3c3c" stroke-width="0.85"/>
<text x="190.7" y="775.66" class="s" font-size="4.6" text-anchor="end" fill="#222">0</text>
<text x="190.7" y="768.46" class="s" font-size="4.6" text-anchor="end" fill="#222">0.5</text>
<text x="190.7" y="761.27" class="s" font-size="4.6" text-anchor="end" fill="#222">1</text>
<text x="190.7" y="754.08" class="s" font-size="4.6" text-anchor="end" fill="#222">1.5</text>
<text x="190.7" y="746.89" class="s" font-size="4.6" text-anchor="end" fill="#222">2</text>
<text x="190.7" y="739.69" class="s" font-size="4.6" text-anchor="end" fill="#222">2.5</text>
<text x="190.7" y="732.5" class="s" font-size="4.6" text-anchor="end" fill="#222">3</text>
<text x="190.7" y="725.31" class="s" font-size="4.6" text-anchor="end" fill="#222">3.5</text>
<text x="190.7" y="718.12" class="s" font-size="4.6" text-anchor="end" fill="#222">4</text>
<text x="190.7" y="710.93" class="s" font-size="4.6" text-anchor="end" fill="#222">4.5</text>
<text x="190.7" y="703.73" class="s" font-size="4.6" text-anchor="end" fill="#222">5</text>
<text x="190.7" y="696.54" class="s" font-size="4.6" text-anchor="end" fill="#222">5.5</text>
<text x="190.7" y="689.35" class="s" font-size="4.6" text-anchor="end" fill="#222">6</text>
<text x="190.7" y="682.16" class="s" font-size="4.6" text-anchor="end" fill="#222">6.5</text>
<text x="210.4" y="781.5" class="s" font-size="4.9" text-anchor="middle" fill="#222">2013</text>
<text x="210.4" y="787.5" class="s" font-size="4.9" text-anchor="middle" fill="#222">wave3</text>
<text x="242.1" y="781.5" class="s" font-size="4.9" text-anchor="middle" fill="#222">2015</text>
<text x="242.1" y="787.5" class="s" font-size="4.9" text-anchor="middle" fill="#222">wave4</text>
<text x="274" y="781.5" class="s" font-size="4.9" text-anchor="middle" fill="#222">2018</text>
<text x="274" y="787.5" class="s" font-size="4.9" text-anchor="middle" fill="#222">wave5</text>
<text x="242.2" y="796.7" class="b" font-size="6.4" font-weight="bold" text-anchor="middle" fill="#111">Year</text>
<text transform="translate(182,726.25) rotate(-90)" class="b" font-size="6.2" font-weight="bold" text-anchor="middle" fill="#111">CESD-9</text>
</g>
<circle cx="62.7" cy="805.8" r="2.8" fill="#c5e0b4"/>
<text x="66.9" y="807.74" class="s" font-size="5.4" fill="#222" xml:space="preserve">Group1: Normal weight &amp; No depression (32.2%)</text>
<circle cx="62.7" cy="814" r="2.8" fill="#8fd14f"/>
<text x="66.9" y="815.94" class="s" font-size="5.4" fill="#222" xml:space="preserve">Group2: Overweight &amp; No depression (30.8%)</text>
<circle cx="62.7" cy="822.4" r="2.8" fill="#4cb96f"/>
<text x="66.9" y="824.34" class="s" font-size="5.4" fill="#222" xml:space="preserve">Group3: Overweight &amp; Depression (24.7%)</text>
<circle cx="62.7" cy="831" r="2.8" fill="#4a7d2c"/>
<text x="66.9" y="832.94" class="s" font-size="5.4" fill="#222" xml:space="preserve">Group4: Obesity &amp; No depression (12.4%)</text>
<circle cx="204.5" cy="805.1" r="2.8" fill="#bdbdbd"/>
<text x="209.4" y="807.04" class="s" font-size="5.4" fill="#222">Average trajectory</text>
<line x1="198.4" x2="207.5" y1="813.1" y2="813.1" stroke="#ff3b3b" stroke-width="1.15" stroke-dasharray="2.6 0.9"/>
<text x="209.2" y="815.04" class="s" font-size="5.4" fill="#222" xml:space="preserve">Cut-off  of  obesity and depression</text>
<text class="h" x="515.6" y="742" font-size="10.9" font-weight="bold" text-anchor="middle" fill="#111">NA</text>
</svg></body></html>
